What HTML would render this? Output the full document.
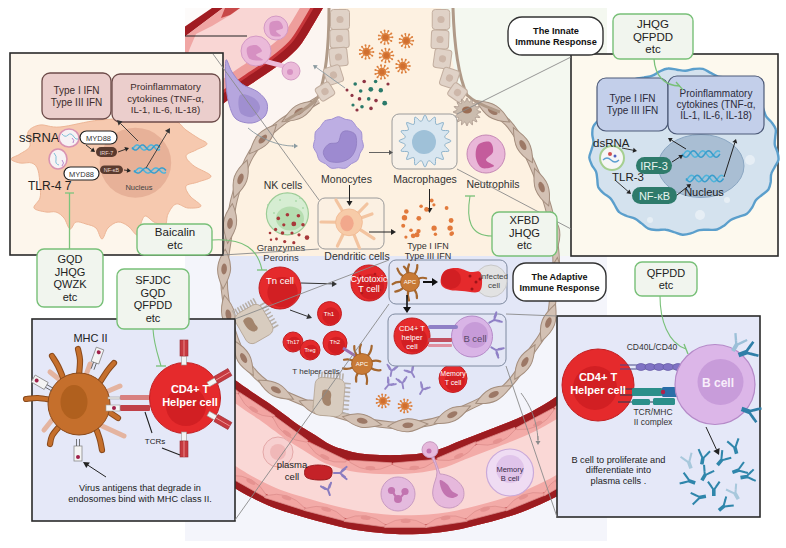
<!DOCTYPE html>
<html><head><meta charset="utf-8"><style>
html,body{margin:0;padding:0;background:#fff;}
svg{display:block;font-family:"Liberation Sans",sans-serif;}
</style></head><body>
<svg width="786" height="548" viewBox="0 0 786 548">
<rect x="0" y="0" width="786" height="548" rx="0" fill="#ffffff" stroke="none" stroke-width="1" />
<rect x="185" y="8" width="422" height="533" rx="0" fill="#fcf5f1" stroke="none" stroke-width="1" />
<path d="M440,8 L607,8 L607,256 L470,256 Z" fill="#f4f8f0" stroke="none" stroke-width="1" />
<rect x="185" y="256" width="422" height="285" rx="0" fill="#f4f5fb" stroke="none" stroke-width="1" />
<clipPath id="tlv"><path d="M324.0,6.0 C321.7,10.0 314.5,22.8 310.0,30.0 C305.5,37.2 302.7,42.8 297.0,49.0 C291.3,55.2 283.7,61.2 276.0,67.0 C268.3,72.8 259.0,78.5 251.0,84.0 C243.0,89.5 234.8,95.0 228.0,100.0 C221.2,105.0 214.7,110.0 210.0,114.0 C205.3,118.0 201.7,122.3 200.0,124.0 L185,124 L185,6 Z"/></clipPath>
<path d="M324.0,6.0 C321.7,10.0 314.5,22.8 310.0,30.0 C305.5,37.2 302.7,42.8 297.0,49.0 C291.3,55.2 283.7,61.2 276.0,67.0 C268.3,72.8 259.0,78.5 251.0,84.0 C243.0,89.5 234.8,95.0 228.0,100.0 C221.2,105.0 214.7,110.0 210.0,114.0 C205.3,118.0 201.7,122.3 200.0,124.0 L185,124 L185,6 Z" fill="#f9d6d4" stroke="none" stroke-width="1" />
<g clip-path="url(#tlv)">
<path d="M324.0,6.0 C321.7,10.0 314.5,22.8 310.0,30.0 C305.5,37.2 302.7,42.8 297.0,49.0 C291.3,55.2 283.7,61.2 276.0,67.0 C268.3,72.8 259.0,78.5 251.0,84.0 C243.0,89.5 234.8,95.0 228.0,100.0 C221.2,105.0 214.7,110.0 210.0,114.0 C205.3,118.0 201.7,122.3 200.0,124.0" fill="none" stroke="#ee9e9c" stroke-width="40" />
<path d="M324.0,6.0 C321.7,10.0 314.5,22.8 310.0,30.0 C305.5,37.2 302.7,42.8 297.0,49.0 C291.3,55.2 283.7,61.2 276.0,67.0 C268.3,72.8 259.0,78.5 251.0,84.0 C243.0,89.5 234.8,95.0 228.0,100.0 C221.2,105.0 214.7,110.0 210.0,114.0 C205.3,118.0 201.7,122.3 200.0,124.0" fill="none" stroke="#c8383c" stroke-width="22" />
<path d="M324.0,6.0 C321.7,10.0 314.5,22.8 310.0,30.0 C305.5,37.2 302.7,42.8 297.0,49.0 C291.3,55.2 283.7,61.2 276.0,67.0 C268.3,72.8 259.0,78.5 251.0,84.0 C243.0,89.5 234.8,95.0 228.0,100.0 C221.2,105.0 214.7,110.0 210.0,114.0 C205.3,118.0 201.7,122.3 200.0,124.0" fill="none" stroke="#a01c22" stroke-width="16" />
</g>
<path d="M185,8 L212,8 L185,26.5Z" fill="#fdfbfa" stroke="none" stroke-width="1" />
<path d="M212,8 L223,8 L185,36.5 L185,26.5Z" fill="#a01c22" stroke="none" stroke-width="1" />
<path d="M223,8 L240,8 L232,14 L212,26 L196,34 L190,48 L185,62 L185,36.5Z" fill="#f0a6a4" stroke="none" stroke-width="1" />
<path d="M225,8 L240,8 L230,15 L221,18Z" fill="#c84848" stroke="none" stroke-width="1" />
<rect x="185" y="0" width="422" height="8" rx="0" fill="#ffffff" stroke="none" stroke-width="1" />
<circle cx="276" cy="28" r="12" fill="#ebbad9" stroke="#d49ac4" stroke-width="1" />
<path d="M270.0,23.0 C271.3,20.7 276.8,20.2 279.0,21.0 C281.2,21.8 283.5,26.3 283.0,28.0 C282.5,29.7 276.3,29.7 276.0,31.0 C275.7,32.3 281.8,35.3 281.0,36.0 C280.2,36.7 272.8,37.2 271.0,35.0 C269.2,32.8 268.7,25.3 270.0,23.0Z" fill="#d690c2" stroke="none" stroke-width="1" />
<path d="M262,60 C272,64 280,64 288,68" fill="none" stroke="#ebbad9" stroke-width="5" />
<circle cx="256" cy="51" r="15" fill="#ebbad9" stroke="#d49ac4" stroke-width="1" />
<path d="M247.0,48.0 C248.0,45.7 253.5,44.5 256.0,45.0 C258.5,45.5 262.0,49.3 262.0,51.0 C262.0,52.7 255.8,53.5 256.0,55.0 C256.2,56.5 264.0,59.3 263.0,60.0 C262.0,60.7 252.7,61.0 250.0,59.0 C247.3,57.0 246.0,50.3 247.0,48.0Z" fill="#d690c2" stroke="none" stroke-width="1" />
<circle cx="291" cy="71" r="9" fill="#ebbad9" stroke="#d49ac4" stroke-width="1" />
<circle cx="290" cy="72" r="3" fill="#d690c2" stroke="none" stroke-width="1" />
<path d="M226.0,60.0 C227.0,58.0 229.3,68.0 232.0,72.0 C234.7,76.0 237.7,80.7 242.0,84.0 C246.3,87.3 253.8,88.8 258.0,92.0 C262.2,95.2 265.8,99.0 267.0,103.0 C268.2,107.0 267.5,112.7 265.0,116.0 C262.5,119.3 256.8,122.5 252.0,123.0 C247.2,123.5 239.8,122.2 236.0,119.0 C232.2,115.8 230.7,109.8 229.0,104.0 C227.3,98.2 226.5,91.3 226.0,84.0 C225.5,76.7 225.0,62.0 226.0,60.0Z" fill="#b6a6de" stroke="#9a88cc" stroke-width="1" />
<path d="M240.0,95.0 C242.3,92.7 250.7,95.8 254.0,98.0 C257.3,100.2 260.3,104.8 260.0,108.0 C259.7,111.2 255.3,116.3 252.0,117.0 C248.7,117.7 242.0,115.7 240.0,112.0 C238.0,108.3 237.7,97.3 240.0,95.0Z" fill="#a08fd0" stroke="none" stroke-width="1" />
<clipPath id="chc"><path d="M339.0,8.0 C338.2,16.7 337.5,44.7 334.0,60.0 C330.5,75.3 323.7,91.5 318.0,100.0 C312.3,108.5 306.0,107.3 300.0,111.0 C294.0,114.7 288.3,117.2 282.0,122.0 C275.7,126.8 267.7,133.7 262.0,140.0 C256.3,146.3 252.7,150.0 248.0,160.0 C243.3,170.0 237.3,186.7 234.0,200.0 C230.7,213.3 229.7,228.0 228.0,240.0 C226.3,252.0 224.3,261.7 224.0,272.0 C223.7,282.3 224.2,290.8 226.0,302.0 C227.8,313.2 231.0,328.0 235.0,339.0 C239.0,350.0 244.0,360.0 250.0,368.0 C256.0,376.0 261.3,381.0 271.0,387.0 C280.7,393.0 294.8,398.8 308.0,404.0 C321.2,409.2 336.3,414.5 350.0,418.0 C363.7,421.5 378.3,424.0 390.0,425.0 C401.7,426.0 411.3,425.0 420.0,424.0 C428.7,423.0 434.3,421.7 442.0,419.0 C449.7,416.3 457.8,411.8 466.0,408.0 C474.2,404.2 484.5,399.3 491.0,396.0 C497.5,392.7 500.5,391.8 505.0,388.0 C509.5,384.2 513.7,379.0 518.0,373.0 C522.3,367.0 527.0,358.2 531.0,352.0 C535.0,345.8 538.8,341.7 542.0,336.0 C545.2,330.3 548.2,324.3 550.0,318.0 C551.8,311.7 552.0,306.0 553.0,298.0 C554.0,290.0 555.6,278.0 556.0,270.0 C556.4,262.0 556.5,259.3 555.5,250.0 C554.5,240.7 552.6,225.2 550.0,214.0 C547.4,202.8 544.2,193.8 540.0,183.0 C535.8,172.2 530.3,159.0 525.0,149.0 C519.7,139.0 514.5,130.0 508.0,123.0 C501.5,116.0 493.7,112.2 486.0,107.0 C478.3,101.8 467.7,99.8 462.0,92.0 C456.3,84.2 455.0,70.3 452.0,60.0 C449.0,49.7 445.8,38.7 444.0,30.0 C442.2,21.3 441.5,11.7 441.0,8.0 L339,8 Z"/></clipPath>
<path d="M339.0,8.0 C338.2,16.7 337.5,44.7 334.0,60.0 C330.5,75.3 323.7,91.5 318.0,100.0 C312.3,108.5 306.0,107.3 300.0,111.0 C294.0,114.7 288.3,117.2 282.0,122.0 C275.7,126.8 267.7,133.7 262.0,140.0 C256.3,146.3 252.7,150.0 248.0,160.0 C243.3,170.0 237.3,186.7 234.0,200.0 C230.7,213.3 229.7,228.0 228.0,240.0 C226.3,252.0 224.3,261.7 224.0,272.0 C223.7,282.3 224.2,290.8 226.0,302.0 C227.8,313.2 231.0,328.0 235.0,339.0 C239.0,350.0 244.0,360.0 250.0,368.0 C256.0,376.0 261.3,381.0 271.0,387.0 C280.7,393.0 294.8,398.8 308.0,404.0 C321.2,409.2 336.3,414.5 350.0,418.0 C363.7,421.5 378.3,424.0 390.0,425.0 C401.7,426.0 411.3,425.0 420.0,424.0 C428.7,423.0 434.3,421.7 442.0,419.0 C449.7,416.3 457.8,411.8 466.0,408.0 C474.2,404.2 484.5,399.3 491.0,396.0 C497.5,392.7 500.5,391.8 505.0,388.0 C509.5,384.2 513.7,379.0 518.0,373.0 C522.3,367.0 527.0,358.2 531.0,352.0 C535.0,345.8 538.8,341.7 542.0,336.0 C545.2,330.3 548.2,324.3 550.0,318.0 C551.8,311.7 552.0,306.0 553.0,298.0 C554.0,290.0 555.6,278.0 556.0,270.0 C556.4,262.0 556.5,259.3 555.5,250.0 C554.5,240.7 552.6,225.2 550.0,214.0 C547.4,202.8 544.2,193.8 540.0,183.0 C535.8,172.2 530.3,159.0 525.0,149.0 C519.7,139.0 514.5,130.0 508.0,123.0 C501.5,116.0 493.7,112.2 486.0,107.0 C478.3,101.8 467.7,99.8 462.0,92.0 C456.3,84.2 455.0,70.3 452.0,60.0 C449.0,49.7 445.8,38.7 444.0,30.0 C442.2,21.3 441.5,11.7 441.0,8.0 L339,8 Z" fill="#fdf1e1" stroke="none" stroke-width="1" />
<g clip-path="url(#chc)"><rect x="180" y="256" width="400" height="200" fill="#e3e7f7"/></g>
<path d="M318.0,100.0 C315.0,101.8 306.0,107.3 300.0,111.0 C294.0,114.7 288.3,117.2 282.0,122.0 C275.7,126.8 267.7,133.7 262.0,140.0 C256.3,146.3 252.7,150.0 248.0,160.0 C243.3,170.0 237.3,186.7 234.0,200.0 C230.7,213.3 229.7,228.0 228.0,240.0 C226.3,252.0 224.3,261.7 224.0,272.0 C223.7,282.3 224.2,290.8 226.0,302.0 C227.8,313.2 231.0,328.0 235.0,339.0 C239.0,350.0 244.0,360.0 250.0,368.0 C256.0,376.0 261.3,381.0 271.0,387.0 C280.7,393.0 294.8,398.8 308.0,404.0 C321.2,409.2 336.3,414.5 350.0,418.0 C363.7,421.5 378.3,424.0 390.0,425.0 C401.7,426.0 411.3,425.0 420.0,424.0 C428.7,423.0 434.3,421.7 442.0,419.0 C449.7,416.3 457.8,411.8 466.0,408.0 C474.2,404.2 484.5,399.3 491.0,396.0 C497.5,392.7 500.5,391.8 505.0,388.0 C509.5,384.2 513.7,379.0 518.0,373.0 C522.3,367.0 527.0,358.2 531.0,352.0 C535.0,345.8 538.8,341.7 542.0,336.0 C545.2,330.3 548.2,324.3 550.0,318.0 C551.8,311.7 552.0,306.0 553.0,298.0 C554.0,290.0 555.6,278.0 556.0,270.0 C556.4,262.0 556.5,259.3 555.5,250.0 C554.5,240.7 552.6,225.2 550.0,214.0 C547.4,202.8 544.2,193.8 540.0,183.0 C535.8,172.2 530.3,159.0 525.0,149.0 C519.7,139.0 514.5,130.0 508.0,123.0 C501.5,116.0 489.7,109.7 486.0,107.0" fill="none" stroke="#a48e7e" stroke-width="7.5" />
<path d="M318.0,100.0 C315.0,101.8 306.0,107.3 300.0,111.0 C294.0,114.7 288.3,117.2 282.0,122.0 C275.7,126.8 267.7,133.7 262.0,140.0 C256.3,146.3 252.7,150.0 248.0,160.0 C243.3,170.0 237.3,186.7 234.0,200.0 C230.7,213.3 229.7,228.0 228.0,240.0 C226.3,252.0 224.3,261.7 224.0,272.0 C223.7,282.3 224.2,290.8 226.0,302.0 C227.8,313.2 231.0,328.0 235.0,339.0 C239.0,350.0 244.0,360.0 250.0,368.0 C256.0,376.0 261.3,381.0 271.0,387.0 C280.7,393.0 294.8,398.8 308.0,404.0 C321.2,409.2 336.3,414.5 350.0,418.0 C363.7,421.5 378.3,424.0 390.0,425.0 C401.7,426.0 411.3,425.0 420.0,424.0 C428.7,423.0 434.3,421.7 442.0,419.0 C449.7,416.3 457.8,411.8 466.0,408.0 C474.2,404.2 484.5,399.3 491.0,396.0 C497.5,392.7 500.5,391.8 505.0,388.0 C509.5,384.2 513.7,379.0 518.0,373.0 C522.3,367.0 527.0,358.2 531.0,352.0 C535.0,345.8 538.8,341.7 542.0,336.0 C545.2,330.3 548.2,324.3 550.0,318.0 C551.8,311.7 552.0,306.0 553.0,298.0 C554.0,290.0 555.6,278.0 556.0,270.0 C556.4,262.0 556.5,259.3 555.5,250.0 C554.5,240.7 552.6,225.2 550.0,214.0 C547.4,202.8 544.2,193.8 540.0,183.0 C535.8,172.2 530.3,159.0 525.0,149.0 C519.7,139.0 514.5,130.0 508.0,123.0 C501.5,116.0 489.7,109.7 486.0,107.0" fill="none" stroke="#d3c1b4" stroke-width="5.5" />
<g transform="translate(299.2,111.5) rotate(149.2)"><path d="M-20,0 C-10,-6 -4,-6.5 0,-6.5 C6,-6.5 12,-4 20,0 C12,4 6,6.5 0,6.5 C-4,6.5 -10,6 -20,0Z" fill="#d3c1b4" stroke="#a48e7e" stroke-width="1"/><ellipse cx="0" cy="0" rx="5.5" ry="2.8" fill="#9c7866"/></g>
<g transform="translate(262.8,139.1) rotate(132.7)"><path d="M-20,0 C-10,-6 -4,-6.5 0,-6.5 C6,-6.5 12,-4 20,0 C12,4 6,6.5 0,6.5 C-4,6.5 -10,6 -20,0Z" fill="#d3c1b4" stroke="#a48e7e" stroke-width="1"/><ellipse cx="0" cy="0" rx="5.5" ry="2.8" fill="#9c7866"/></g>
<g transform="translate(240.5,178.9) rotate(109.3)"><path d="M-20,0 C-10,-6 -4,-6.5 0,-6.5 C6,-6.5 12,-4 20,0 C12,4 6,6.5 0,6.5 C-4,6.5 -10,6 -20,0Z" fill="#d3c1b4" stroke="#a48e7e" stroke-width="1"/><ellipse cx="0" cy="0" rx="5.5" ry="2.8" fill="#9c7866"/></g>
<g transform="translate(230.0,223.5) rotate(96.9)"><path d="M-20,0 C-10,-6 -4,-6.5 0,-6.5 C6,-6.5 12,-4 20,0 C12,4 6,6.5 0,6.5 C-4,6.5 -10,6 -20,0Z" fill="#d3c1b4" stroke="#a48e7e" stroke-width="1"/><ellipse cx="0" cy="0" rx="5.5" ry="2.8" fill="#9c7866"/></g>
<g transform="translate(224.1,269.1) rotate(93.3)"><path d="M-20,0 C-10,-6 -4,-6.5 0,-6.5 C6,-6.5 12,-4 20,0 C12,4 6,6.5 0,6.5 C-4,6.5 -10,6 -20,0Z" fill="#d3c1b4" stroke="#a48e7e" stroke-width="1"/><ellipse cx="0" cy="0" rx="5.5" ry="2.8" fill="#9c7866"/></g>
<g transform="translate(228.4,314.8) rotate(78.1)"><path d="M-20,0 C-10,-6 -4,-6.5 0,-6.5 C6,-6.5 12,-4 20,0 C12,4 6,6.5 0,6.5 C-4,6.5 -10,6 -20,0Z" fill="#d3c1b4" stroke="#a48e7e" stroke-width="1"/><ellipse cx="0" cy="0" rx="5.5" ry="2.8" fill="#9c7866"/></g>
<g transform="translate(243.6,358.0) rotate(60.9)"><path d="M-20,0 C-10,-6 -4,-6.5 0,-6.5 C6,-6.5 12,-4 20,0 C12,4 6,6.5 0,6.5 C-4,6.5 -10,6 -20,0Z" fill="#d3c1b4" stroke="#a48e7e" stroke-width="1"/><ellipse cx="0" cy="0" rx="5.5" ry="2.8" fill="#9c7866"/></g>
<g transform="translate(275.9,389.8) rotate(28.6)"><path d="M-20,0 C-10,-6 -4,-6.5 0,-6.5 C6,-6.5 12,-4 20,0 C12,4 6,6.5 0,6.5 C-4,6.5 -10,6 -20,0Z" fill="#d3c1b4" stroke="#a48e7e" stroke-width="1"/><ellipse cx="0" cy="0" rx="5.5" ry="2.8" fill="#9c7866"/></g>
<g transform="translate(318.1,407.9) rotate(20.2)"><path d="M-20,0 C-10,-6 -4,-6.5 0,-6.5 C6,-6.5 12,-4 20,0 C12,4 6,6.5 0,6.5 C-4,6.5 -10,6 -20,0Z" fill="#d3c1b4" stroke="#a48e7e" stroke-width="1"/><ellipse cx="0" cy="0" rx="5.5" ry="2.8" fill="#9c7866"/></g>
<g transform="translate(362.2,420.8) rotate(11.7)"><path d="M-20,0 C-10,-6 -4,-6.5 0,-6.5 C6,-6.5 12,-4 20,0 C12,4 6,6.5 0,6.5 C-4,6.5 -10,6 -20,0Z" fill="#d3c1b4" stroke="#a48e7e" stroke-width="1"/><ellipse cx="0" cy="0" rx="5.5" ry="2.8" fill="#9c7866"/></g>
<g transform="translate(407.9,425.2) rotate(-3.5)"><path d="M-20,0 C-10,-6 -4,-6.5 0,-6.5 C6,-6.5 12,-4 20,0 C12,4 6,6.5 0,6.5 C-4,6.5 -10,6 -20,0Z" fill="#d3c1b4" stroke="#a48e7e" stroke-width="1"/><ellipse cx="0" cy="0" rx="5.5" ry="2.8" fill="#9c7866"/></g>
<g transform="translate(452.3,414.7) rotate(-25.4)"><path d="M-20,0 C-10,-6 -4,-6.5 0,-6.5 C6,-6.5 12,-4 20,0 C12,4 6,6.5 0,6.5 C-4,6.5 -10,6 -20,0Z" fill="#d3c1b4" stroke="#a48e7e" stroke-width="1"/><ellipse cx="0" cy="0" rx="5.5" ry="2.8" fill="#9c7866"/></g>
<g transform="translate(493.7,394.6) rotate(-26.0)"><path d="M-20,0 C-10,-6 -4,-6.5 0,-6.5 C6,-6.5 12,-4 20,0 C12,4 6,6.5 0,6.5 C-4,6.5 -10,6 -20,0Z" fill="#d3c1b4" stroke="#a48e7e" stroke-width="1"/><ellipse cx="0" cy="0" rx="5.5" ry="2.8" fill="#9c7866"/></g>
<g transform="translate(524.9,362.0) rotate(-59.4)"><path d="M-20,0 C-10,-6 -4,-6.5 0,-6.5 C6,-6.5 12,-4 20,0 C12,4 6,6.5 0,6.5 C-4,6.5 -10,6 -20,0Z" fill="#d3c1b4" stroke="#a48e7e" stroke-width="1"/><ellipse cx="0" cy="0" rx="5.5" ry="2.8" fill="#9c7866"/></g>
<g transform="translate(548.4,322.6) rotate(-69.1)"><path d="M-20,0 C-10,-6 -4,-6.5 0,-6.5 C6,-6.5 12,-4 20,0 C12,4 6,6.5 0,6.5 C-4,6.5 -10,6 -20,0Z" fill="#d3c1b4" stroke="#a48e7e" stroke-width="1"/><ellipse cx="0" cy="0" rx="5.5" ry="2.8" fill="#9c7866"/></g>
<g transform="translate(555.4,277.3) rotate(-84.4)"><path d="M-20,0 C-10,-6 -4,-6.5 0,-6.5 C6,-6.5 12,-4 20,0 C12,4 6,6.5 0,6.5 C-4,6.5 -10,6 -20,0Z" fill="#d3c1b4" stroke="#a48e7e" stroke-width="1"/><ellipse cx="0" cy="0" rx="5.5" ry="2.8" fill="#9c7866"/></g>
<g transform="translate(553.2,231.5) rotate(-98.3)"><path d="M-20,0 C-10,-6 -4,-6.5 0,-6.5 C6,-6.5 12,-4 20,0 C12,4 6,6.5 0,6.5 C-4,6.5 -10,6 -20,0Z" fill="#d3c1b4" stroke="#a48e7e" stroke-width="1"/><ellipse cx="0" cy="0" rx="5.5" ry="2.8" fill="#9c7866"/></g>
<g transform="translate(541.6,187.1) rotate(-110.7)"><path d="M-20,0 C-10,-6 -4,-6.5 0,-6.5 C6,-6.5 12,-4 20,0 C12,4 6,6.5 0,6.5 C-4,6.5 -10,6 -20,0Z" fill="#d3c1b4" stroke="#a48e7e" stroke-width="1"/><ellipse cx="0" cy="0" rx="5.5" ry="2.8" fill="#9c7866"/></g>
<g transform="translate(522.9,145.1) rotate(-118.6)"><path d="M-20,0 C-10,-6 -4,-6.5 0,-6.5 C6,-6.5 12,-4 20,0 C12,4 6,6.5 0,6.5 C-4,6.5 -10,6 -20,0Z" fill="#d3c1b4" stroke="#a48e7e" stroke-width="1"/><ellipse cx="0" cy="0" rx="5.5" ry="2.8" fill="#9c7866"/></g>
<g transform="translate(492.7,111.3) rotate(-147.6)"><path d="M-20,0 C-10,-6 -4,-6.5 0,-6.5 C6,-6.5 12,-4 20,0 C12,4 6,6.5 0,6.5 C-4,6.5 -10,6 -20,0Z" fill="#d3c1b4" stroke="#a48e7e" stroke-width="1"/><ellipse cx="0" cy="0" rx="5.5" ry="2.8" fill="#9c7866"/></g>
<path d="M329,8 C329,40 327,75 318,97 C310,108 296,114 285,121" fill="none" stroke="#b09a88" stroke-width="3" />
<path d="M453,8 C454,40 458,75 467,95 C476,104 490,108 500,112" fill="none" stroke="#b09a88" stroke-width="3" />
<g transform="translate(340,19.5) rotate(0)"><rect x="-9.5" y="-10.0" width="19" height="20" rx="3" fill="#e0d2c7" stroke="#c2ae9f" stroke-width="1"/><circle cx="0" cy="0" r="3.6" fill="#cdb7a9"/></g>
<g transform="translate(339.5,38.6) rotate(-2)"><rect x="-9.5" y="-9.25" width="19" height="18.5" rx="3" fill="#e0d2c7" stroke="#c2ae9f" stroke-width="1"/><circle cx="0" cy="0" r="3.6" fill="#cdb7a9"/></g>
<g transform="translate(338.5,57) rotate(-6)"><rect x="-9.0" y="-9.25" width="18" height="18.5" rx="3" fill="#e0d2c7" stroke="#c2ae9f" stroke-width="1"/><circle cx="0" cy="0" r="3.6" fill="#cdb7a9"/></g>
<g transform="translate(333.5,75) rotate(-18)"><rect x="-8.5" y="-8.75" width="17" height="17.5" rx="3" fill="#e0d2c7" stroke="#c2ae9f" stroke-width="1"/><circle cx="0" cy="0" r="3.6" fill="#cdb7a9"/></g>
<g transform="translate(325,91.5) rotate(-32)"><rect x="-8.0" y="-7.5" width="16" height="15" rx="3" fill="#e0d2c7" stroke="#c2ae9f" stroke-width="1"/><circle cx="0" cy="0" r="3.6" fill="#cdb7a9"/></g>
<g transform="translate(441,19.5) rotate(0)"><rect x="-8.75" y="-10.0" width="17.5" height="20" rx="3" fill="#e0d2c7" stroke="#c2ae9f" stroke-width="1"/><circle cx="0" cy="0" r="3.6" fill="#cdb7a9"/></g>
<g transform="translate(440,39.5) rotate(2)"><rect x="-8.75" y="-9.25" width="17.5" height="18.5" rx="3" fill="#e0d2c7" stroke="#c2ae9f" stroke-width="1"/><circle cx="0" cy="0" r="3.6" fill="#cdb7a9"/></g>
<g transform="translate(442.5,58.8) rotate(8)"><rect x="-8.5" y="-9.5" width="17" height="19" rx="3" fill="#e0d2c7" stroke="#c2ae9f" stroke-width="1"/><circle cx="0" cy="0" r="3.6" fill="#cdb7a9"/></g>
<g transform="translate(449.5,78) rotate(18)"><rect x="-8.25" y="-9.25" width="16.5" height="18.5" rx="3" fill="#e0d2c7" stroke="#c2ae9f" stroke-width="1"/><circle cx="0" cy="0" r="3.6" fill="#cdb7a9"/></g>
<g transform="translate(457.5,92.5) rotate(35)"><rect x="-8.0" y="-7.5" width="16" height="15" rx="3" fill="#e0d2c7" stroke="#c2ae9f" stroke-width="1"/><circle cx="0" cy="0" r="3.6" fill="#cdb7a9"/></g>
<path d="M481.0,112.0 C481.0,112.7 477.0,113.1 476.8,114.0 C476.6,114.8 480.2,116.8 479.9,117.4 C479.7,118.0 475.8,116.8 475.3,117.6 C474.8,118.3 477.4,121.4 476.9,121.9 C476.4,122.4 473.3,119.8 472.6,120.3 C471.8,120.8 473.0,124.7 472.4,124.9 C471.8,125.2 469.8,121.6 469.0,121.8 C468.1,122.0 467.7,126.0 467.0,126.0 C466.3,126.0 465.9,122.0 465.0,121.8 C464.2,121.6 462.2,125.2 461.6,124.9 C461.0,124.7 462.2,120.8 461.4,120.3 C460.7,119.8 457.6,122.4 457.1,121.9 C456.6,121.4 459.2,118.3 458.7,117.6 C458.2,116.8 454.3,118.0 454.1,117.4 C453.8,116.8 457.4,114.8 457.2,114.0 C457.0,113.1 453.0,112.7 453.0,112.0 C453.0,111.3 457.0,110.9 457.2,110.0 C457.4,109.2 453.8,107.2 454.1,106.6 C454.3,106.0 458.2,107.2 458.7,106.4 C459.2,105.7 456.6,102.6 457.1,102.1 C457.6,101.6 460.7,104.2 461.4,103.7 C462.2,103.2 461.0,99.3 461.6,99.1 C462.2,98.8 464.2,102.4 465.0,102.2 C465.9,102.0 466.3,98.0 467.0,98.0 C467.7,98.0 468.1,102.0 469.0,102.2 C469.8,102.4 471.8,98.8 472.4,99.1 C473.0,99.3 471.8,103.2 472.6,103.7 C473.3,104.2 476.4,101.6 476.9,102.1 C477.4,102.6 474.8,105.7 475.3,106.4 C475.8,107.2 479.7,106.0 479.9,106.6 C480.2,107.2 476.6,109.2 476.8,110.0 C477.0,110.9 481.0,111.3 481.0,112.0Z" fill="#cbbcae" stroke="#a8968a" stroke-width="0.8" />
<ellipse cx="467" cy="110" rx="5" ry="3.5" fill="#9b6e55" stroke="none" stroke-width="1" />
<g transform="translate(254,324) rotate(-30)"><line x1="-12.0" y1="-17.0" x2="-12.0" y2="-22.0" stroke="#b8b0a8" stroke-width="1.6" stroke-linecap="round"/><line x1="-9.0" y1="-17.0" x2="-9.0" y2="-22.0" stroke="#b8b0a8" stroke-width="1.6" stroke-linecap="round"/><line x1="-6.0" y1="-17.0" x2="-6.0" y2="-22.0" stroke="#b8b0a8" stroke-width="1.6" stroke-linecap="round"/><line x1="-3.0" y1="-17.0" x2="-3.0" y2="-22.0" stroke="#b8b0a8" stroke-width="1.6" stroke-linecap="round"/><line x1="0.0" y1="-17.0" x2="0.0" y2="-22.0" stroke="#b8b0a8" stroke-width="1.6" stroke-linecap="round"/><line x1="3.0" y1="-17.0" x2="3.0" y2="-22.0" stroke="#b8b0a8" stroke-width="1.6" stroke-linecap="round"/><line x1="6.0" y1="-17.0" x2="6.0" y2="-22.0" stroke="#b8b0a8" stroke-width="1.6" stroke-linecap="round"/><line x1="9.0" y1="-17.0" x2="9.0" y2="-22.0" stroke="#b8b0a8" stroke-width="1.6" stroke-linecap="round"/><line x1="12.0" y1="-17.0" x2="12.0" y2="-22.0" stroke="#b8b0a8" stroke-width="1.6" stroke-linecap="round"/><line x1="15.0" y1="-13.0" x2="20.0" y2="-13.0" stroke="#b8b0a8" stroke-width="1.6" stroke-linecap="round"/><line x1="15.0" y1="-9.3" x2="20.0" y2="-9.3" stroke="#b8b0a8" stroke-width="1.6" stroke-linecap="round"/><line x1="15.0" y1="-5.6" x2="20.0" y2="-5.6" stroke="#b8b0a8" stroke-width="1.6" stroke-linecap="round"/><line x1="15.0" y1="-1.9" x2="20.0" y2="-1.9" stroke="#b8b0a8" stroke-width="1.6" stroke-linecap="round"/><line x1="15.0" y1="1.9" x2="20.0" y2="1.9" stroke="#b8b0a8" stroke-width="1.6" stroke-linecap="round"/><line x1="15.0" y1="5.6" x2="20.0" y2="5.6" stroke="#b8b0a8" stroke-width="1.6" stroke-linecap="round"/><line x1="15.0" y1="9.3" x2="20.0" y2="9.3" stroke="#b8b0a8" stroke-width="1.6" stroke-linecap="round"/><line x1="15.0" y1="13.0" x2="20.0" y2="13.0" stroke="#b8b0a8" stroke-width="1.6" stroke-linecap="round"/><rect x="-15.0" y="-17.0" width="30" height="34" rx="7" fill="#d8ccbf" stroke="#b4a494" stroke-width="0.8"/><path d="M-8,-8 C-3,-11 2,-8 1,-2 C0,2 4,5 -1,7 C-7,7 -9,0 -8,-8Z" fill="#a3846c"/></g>
<g transform="translate(329,397) rotate(5)"><line x1="-12.0" y1="-19.0" x2="-12.0" y2="-24.0" stroke="#b8b0a8" stroke-width="1.6" stroke-linecap="round"/><line x1="-9.0" y1="-19.0" x2="-9.0" y2="-24.0" stroke="#b8b0a8" stroke-width="1.6" stroke-linecap="round"/><line x1="-6.0" y1="-19.0" x2="-6.0" y2="-24.0" stroke="#b8b0a8" stroke-width="1.6" stroke-linecap="round"/><line x1="-3.0" y1="-19.0" x2="-3.0" y2="-24.0" stroke="#b8b0a8" stroke-width="1.6" stroke-linecap="round"/><line x1="0.0" y1="-19.0" x2="0.0" y2="-24.0" stroke="#b8b0a8" stroke-width="1.6" stroke-linecap="round"/><line x1="3.0" y1="-19.0" x2="3.0" y2="-24.0" stroke="#b8b0a8" stroke-width="1.6" stroke-linecap="round"/><line x1="6.0" y1="-19.0" x2="6.0" y2="-24.0" stroke="#b8b0a8" stroke-width="1.6" stroke-linecap="round"/><line x1="9.0" y1="-19.0" x2="9.0" y2="-24.0" stroke="#b8b0a8" stroke-width="1.6" stroke-linecap="round"/><line x1="12.0" y1="-19.0" x2="12.0" y2="-24.0" stroke="#b8b0a8" stroke-width="1.6" stroke-linecap="round"/><line x1="15.0" y1="-15.0" x2="20.0" y2="-15.0" stroke="#b8b0a8" stroke-width="1.6" stroke-linecap="round"/><line x1="15.0" y1="-10.7" x2="20.0" y2="-10.7" stroke="#b8b0a8" stroke-width="1.6" stroke-linecap="round"/><line x1="15.0" y1="-6.4" x2="20.0" y2="-6.4" stroke="#b8b0a8" stroke-width="1.6" stroke-linecap="round"/><line x1="15.0" y1="-2.1" x2="20.0" y2="-2.1" stroke="#b8b0a8" stroke-width="1.6" stroke-linecap="round"/><line x1="15.0" y1="2.1" x2="20.0" y2="2.1" stroke="#b8b0a8" stroke-width="1.6" stroke-linecap="round"/><line x1="15.0" y1="6.4" x2="20.0" y2="6.4" stroke="#b8b0a8" stroke-width="1.6" stroke-linecap="round"/><line x1="15.0" y1="10.7" x2="20.0" y2="10.7" stroke="#b8b0a8" stroke-width="1.6" stroke-linecap="round"/><line x1="15.0" y1="15.0" x2="20.0" y2="15.0" stroke="#b8b0a8" stroke-width="1.6" stroke-linecap="round"/><rect x="-15.0" y="-19.0" width="30" height="38" rx="7" fill="#d8ccbf" stroke="#b4a494" stroke-width="0.8"/><path d="M-7,-6 C-2,-9 3,-6 2,0 C1,4 5,7 0,9 C-6,9 -8,2 -7,-6Z" fill="#a3846c"/></g>
<clipPath id="vclip"><path d="M222.0,370.0 C224.2,371.7 229.5,376.0 235.0,380.0 C240.5,384.0 249.2,390.0 255.0,394.0 C260.8,398.0 265.0,400.5 270.0,404.0 C275.0,407.5 280.0,411.3 285.0,415.0 C290.0,418.7 295.0,422.7 300.0,426.0 C305.0,429.3 310.0,431.9 315.0,435.0 C320.0,438.1 325.0,442.0 330.0,444.5 C335.0,447.0 340.0,448.5 345.0,450.0 C350.0,451.5 354.2,452.7 360.0,453.5 C365.8,454.3 373.3,454.8 380.0,455.0 C386.7,455.2 393.3,455.2 400.0,455.0 C406.7,454.8 413.3,454.5 420.0,453.5 C426.7,452.5 434.0,450.8 440.0,449.0 C446.0,447.2 450.5,444.7 456.0,442.5 C461.5,440.3 467.2,438.2 473.0,436.0 C478.8,433.8 485.0,431.3 491.0,429.0 C497.0,426.7 503.0,424.5 509.0,422.0 C515.0,419.5 521.0,417.0 527.0,414.0 C533.0,411.0 539.5,407.3 545.0,404.0 C550.5,400.7 555.5,397.2 560.0,394.0 C564.5,390.8 570.0,386.5 572.0,385.0 L572.0,488.0 C569.5,489.4 562.0,493.9 556.7,496.6 C551.4,499.4 545.8,501.9 540.0,504.5 C534.2,507.1 528.4,509.6 522.1,511.9 C515.8,514.2 508.8,516.5 502.0,518.5 C495.2,520.5 488.2,522.4 481.4,524.1 C474.6,525.9 467.8,527.6 461.0,529.0 C454.2,530.4 447.5,531.5 440.7,532.3 C433.9,533.1 426.8,533.7 420.0,534.0 C413.2,534.3 406.4,534.4 400.0,534.3 C393.6,534.1 388.1,533.7 381.4,533.1 C374.7,532.5 367.0,531.8 359.8,530.6 C352.6,529.5 345.3,527.8 338.1,526.2 C330.9,524.6 323.7,522.8 316.5,520.8 C309.3,518.8 302.1,516.7 294.9,514.5 C287.7,512.3 280.5,510.3 273.3,507.5 C266.1,504.7 257.9,500.7 251.6,497.5 C245.3,494.3 240.3,491.3 235.4,488.4 C230.5,485.5 224.2,481.4 222.0,480.0 Z"/></clipPath>
<path d="M222.0,370.0 C224.2,371.7 229.5,376.0 235.0,380.0 C240.5,384.0 249.2,390.0 255.0,394.0 C260.8,398.0 265.0,400.5 270.0,404.0 C275.0,407.5 280.0,411.3 285.0,415.0 C290.0,418.7 295.0,422.7 300.0,426.0 C305.0,429.3 310.0,431.9 315.0,435.0 C320.0,438.1 325.0,442.0 330.0,444.5 C335.0,447.0 340.0,448.5 345.0,450.0 C350.0,451.5 354.2,452.7 360.0,453.5 C365.8,454.3 373.3,454.8 380.0,455.0 C386.7,455.2 393.3,455.2 400.0,455.0 C406.7,454.8 413.3,454.5 420.0,453.5 C426.7,452.5 434.0,450.8 440.0,449.0 C446.0,447.2 450.5,444.7 456.0,442.5 C461.5,440.3 467.2,438.2 473.0,436.0 C478.8,433.8 485.0,431.3 491.0,429.0 C497.0,426.7 503.0,424.5 509.0,422.0 C515.0,419.5 521.0,417.0 527.0,414.0 C533.0,411.0 539.5,407.3 545.0,404.0 C550.5,400.7 555.5,397.2 560.0,394.0 C564.5,390.8 570.0,386.5 572.0,385.0 L572.0,488.0 C569.5,489.4 562.0,493.9 556.7,496.6 C551.4,499.4 545.8,501.9 540.0,504.5 C534.2,507.1 528.4,509.6 522.1,511.9 C515.8,514.2 508.8,516.5 502.0,518.5 C495.2,520.5 488.2,522.4 481.4,524.1 C474.6,525.9 467.8,527.6 461.0,529.0 C454.2,530.4 447.5,531.5 440.7,532.3 C433.9,533.1 426.8,533.7 420.0,534.0 C413.2,534.3 406.4,534.4 400.0,534.3 C393.6,534.1 388.1,533.7 381.4,533.1 C374.7,532.5 367.0,531.8 359.8,530.6 C352.6,529.5 345.3,527.8 338.1,526.2 C330.9,524.6 323.7,522.8 316.5,520.8 C309.3,518.8 302.1,516.7 294.9,514.5 C287.7,512.3 280.5,510.3 273.3,507.5 C266.1,504.7 257.9,500.7 251.6,497.5 C245.3,494.3 240.3,491.3 235.4,488.4 C230.5,485.5 224.2,481.4 222.0,480.0 Z" fill="#fad8d6" stroke="none" stroke-width="1" />
<g clip-path="url(#vclip)">
<path d="M222.0,370.0 C224.2,371.7 229.5,376.0 235.0,380.0 C240.5,384.0 249.2,390.0 255.0,394.0 C260.8,398.0 265.0,400.5 270.0,404.0 C275.0,407.5 280.0,411.3 285.0,415.0 C290.0,418.7 295.0,422.7 300.0,426.0 C305.0,429.3 310.0,431.9 315.0,435.0 C320.0,438.1 325.0,442.0 330.0,444.5 C335.0,447.0 340.0,448.5 345.0,450.0 C350.0,451.5 354.2,452.7 360.0,453.5 C365.8,454.3 373.3,454.8 380.0,455.0 C386.7,455.2 393.3,455.2 400.0,455.0 C406.7,454.8 413.3,454.5 420.0,453.5 C426.7,452.5 434.0,450.8 440.0,449.0 C446.0,447.2 450.5,444.7 456.0,442.5 C461.5,440.3 467.2,438.2 473.0,436.0 C478.8,433.8 485.0,431.3 491.0,429.0 C497.0,426.7 503.0,424.5 509.0,422.0 C515.0,419.5 521.0,417.0 527.0,414.0 C533.0,411.0 539.5,407.3 545.0,404.0 C550.5,400.7 555.5,397.2 560.0,394.0 C564.5,390.8 570.0,386.5 572.0,385.0" fill="none" stroke="#f3aba8" stroke-width="38" />
<path d="M222.0,480.0 C224.2,481.4 230.5,485.5 235.4,488.4 C240.3,491.3 245.3,494.3 251.6,497.5 C257.9,500.7 266.1,504.7 273.3,507.5 C280.5,510.3 287.7,512.3 294.9,514.5 C302.1,516.7 309.3,518.8 316.5,520.8 C323.7,522.8 330.9,524.6 338.1,526.2 C345.3,527.8 352.6,529.5 359.8,530.6 C367.0,531.8 374.7,532.5 381.4,533.1 C388.1,533.7 393.6,534.1 400.0,534.3 C406.4,534.4 413.2,534.3 420.0,534.0 C426.8,533.7 433.9,533.1 440.7,532.3 C447.5,531.5 454.2,530.4 461.0,529.0 C467.8,527.6 474.6,525.9 481.4,524.1 C488.2,522.4 495.2,520.5 502.0,518.5 C508.8,516.5 515.8,514.2 522.1,511.9 C528.4,509.6 534.2,507.1 540.0,504.5 C545.8,501.9 551.4,499.4 556.7,496.6 C562.0,493.9 569.5,489.4 572.0,488.0" fill="none" stroke="#f3aba8" stroke-width="38" />
<path d="M222.0,370.0 C224.2,371.7 229.5,376.0 235.0,380.0 C240.5,384.0 249.2,390.0 255.0,394.0 C260.8,398.0 265.0,400.5 270.0,404.0 C275.0,407.5 280.0,411.3 285.0,415.0 C290.0,418.7 295.0,422.7 300.0,426.0 C305.0,429.3 310.0,431.9 315.0,435.0 C320.0,438.1 325.0,442.0 330.0,444.5 C335.0,447.0 340.0,448.5 345.0,450.0 C350.0,451.5 354.2,452.7 360.0,453.5 C365.8,454.3 373.3,454.8 380.0,455.0 C386.7,455.2 393.3,455.2 400.0,455.0 C406.7,454.8 413.3,454.5 420.0,453.5 C426.7,452.5 434.0,450.8 440.0,449.0 C446.0,447.2 450.5,444.7 456.0,442.5 C461.5,440.3 467.2,438.2 473.0,436.0 C478.8,433.8 485.0,431.3 491.0,429.0 C497.0,426.7 503.0,424.5 509.0,422.0 C515.0,419.5 521.0,417.0 527.0,414.0 C533.0,411.0 539.5,407.3 545.0,404.0 C550.5,400.7 555.5,397.2 560.0,394.0 C564.5,390.8 570.0,386.5 572.0,385.0" fill="none" stroke="#b82a2e" stroke-width="19" />
<path d="M222.0,480.0 C224.2,481.4 230.5,485.5 235.4,488.4 C240.3,491.3 245.3,494.3 251.6,497.5 C257.9,500.7 266.1,504.7 273.3,507.5 C280.5,510.3 287.7,512.3 294.9,514.5 C302.1,516.7 309.3,518.8 316.5,520.8 C323.7,522.8 330.9,524.6 338.1,526.2 C345.3,527.8 352.6,529.5 359.8,530.6 C367.0,531.8 374.7,532.5 381.4,533.1 C388.1,533.7 393.6,534.1 400.0,534.3 C406.4,534.4 413.2,534.3 420.0,534.0 C426.8,533.7 433.9,533.1 440.7,532.3 C447.5,531.5 454.2,530.4 461.0,529.0 C467.8,527.6 474.6,525.9 481.4,524.1 C488.2,522.4 495.2,520.5 502.0,518.5 C508.8,516.5 515.8,514.2 522.1,511.9 C528.4,509.6 534.2,507.1 540.0,504.5 C545.8,501.9 551.4,499.4 556.7,496.6 C562.0,493.9 569.5,489.4 572.0,488.0" fill="none" stroke="#b82a2e" stroke-width="19" />
<path d="M222.0,370.0 C224.2,371.7 229.5,376.0 235.0,380.0 C240.5,384.0 249.2,390.0 255.0,394.0 C260.8,398.0 265.0,400.5 270.0,404.0 C275.0,407.5 280.0,411.3 285.0,415.0 C290.0,418.7 295.0,422.7 300.0,426.0 C305.0,429.3 310.0,431.9 315.0,435.0 C320.0,438.1 325.0,442.0 330.0,444.5 C335.0,447.0 340.0,448.5 345.0,450.0 C350.0,451.5 354.2,452.7 360.0,453.5 C365.8,454.3 373.3,454.8 380.0,455.0 C386.7,455.2 393.3,455.2 400.0,455.0 C406.7,454.8 413.3,454.5 420.0,453.5 C426.7,452.5 434.0,450.8 440.0,449.0 C446.0,447.2 450.5,444.7 456.0,442.5 C461.5,440.3 467.2,438.2 473.0,436.0 C478.8,433.8 485.0,431.3 491.0,429.0 C497.0,426.7 503.0,424.5 509.0,422.0 C515.0,419.5 521.0,417.0 527.0,414.0 C533.0,411.0 539.5,407.3 545.0,404.0 C550.5,400.7 555.5,397.2 560.0,394.0 C564.5,390.8 570.0,386.5 572.0,385.0" fill="none" stroke="#9c1c20" stroke-width="16" />
<path d="M222.0,480.0 C224.2,481.4 230.5,485.5 235.4,488.4 C240.3,491.3 245.3,494.3 251.6,497.5 C257.9,500.7 266.1,504.7 273.3,507.5 C280.5,510.3 287.7,512.3 294.9,514.5 C302.1,516.7 309.3,518.8 316.5,520.8 C323.7,522.8 330.9,524.6 338.1,526.2 C345.3,527.8 352.6,529.5 359.8,530.6 C367.0,531.8 374.7,532.5 381.4,533.1 C388.1,533.7 393.6,534.1 400.0,534.3 C406.4,534.4 413.2,534.3 420.0,534.0 C426.8,533.7 433.9,533.1 440.7,532.3 C447.5,531.5 454.2,530.4 461.0,529.0 C467.8,527.6 474.6,525.9 481.4,524.1 C488.2,522.4 495.2,520.5 502.0,518.5 C508.8,516.5 515.8,514.2 522.1,511.9 C528.4,509.6 534.2,507.1 540.0,504.5 C545.8,501.9 551.4,499.4 556.7,496.6 C562.0,493.9 569.5,489.4 572.0,488.0" fill="none" stroke="#9c1c20" stroke-width="16" />
<g transform="translate(218.7,383.9) rotate(38.1)"><path d="M-21,-4 Q0,9 21,-4 L21,-6 L-21,-6Z" fill="#f2a5a2" stroke="#dc8e8c" stroke-width="0.7"/><ellipse cx="0" cy="0.5" rx="5" ry="2" fill="#e59290"/></g>
<g transform="translate(253.9,408.9) rotate(33.2)"><path d="M-21,-4 Q0,9 21,-4 L21,-6 L-21,-6Z" fill="#f2a5a2" stroke="#dc8e8c" stroke-width="0.7"/><ellipse cx="0" cy="0.5" rx="5" ry="2" fill="#e59290"/></g>
<g transform="translate(287.4,433.0) rotate(36.2)"><path d="M-21,-4 Q0,9 21,-4 L21,-6 L-21,-6Z" fill="#f2a5a2" stroke="#dc8e8c" stroke-width="0.7"/><ellipse cx="0" cy="0.5" rx="5" ry="2" fill="#e59290"/></g>
<g transform="translate(325.0,456.5) rotate(25.7)"><path d="M-21,-4 Q0,9 21,-4 L21,-6 L-21,-6Z" fill="#f2a5a2" stroke="#dc8e8c" stroke-width="0.7"/><ellipse cx="0" cy="0.5" rx="5" ry="2" fill="#e59290"/></g>
<g transform="translate(370.4,467.5) rotate(3.6)"><path d="M-21,-4 Q0,9 21,-4 L21,-6 L-21,-6Z" fill="#f2a5a2" stroke="#dc8e8c" stroke-width="0.7"/><ellipse cx="0" cy="0.5" rx="5" ry="2" fill="#e59290"/></g>
<g transform="translate(414.3,467.2) rotate(-4.9)"><path d="M-21,-4 Q0,9 21,-4 L21,-6 L-21,-6Z" fill="#f2a5a2" stroke="#dc8e8c" stroke-width="0.7"/><ellipse cx="0" cy="0.5" rx="5" ry="2" fill="#e59290"/></g>
<g transform="translate(458.6,455.5) rotate(-23.1)"><path d="M-21,-4 Q0,9 21,-4 L21,-6 L-21,-6Z" fill="#f2a5a2" stroke="#dc8e8c" stroke-width="0.7"/><ellipse cx="0" cy="0.5" rx="5" ry="2" fill="#e59290"/></g>
<g transform="translate(497.4,440.5) rotate(-21.0)"><path d="M-21,-4 Q0,9 21,-4 L21,-6 L-21,-6Z" fill="#f2a5a2" stroke="#dc8e8c" stroke-width="0.7"/><ellipse cx="0" cy="0.5" rx="5" ry="2" fill="#e59290"/></g>
<g transform="translate(537.4,423.3) rotate(-28.0)"><path d="M-21,-4 Q0,9 21,-4 L21,-6 L-21,-6Z" fill="#f2a5a2" stroke="#dc8e8c" stroke-width="0.7"/><ellipse cx="0" cy="0.5" rx="5" ry="2" fill="#e59290"/></g>
<g transform="translate(574.5,399.5) rotate(-37.3)"><path d="M-21,-4 Q0,9 21,-4 L21,-6 L-21,-6Z" fill="#f2a5a2" stroke="#dc8e8c" stroke-width="0.7"/><ellipse cx="0" cy="0.5" rx="5" ry="2" fill="#e59290"/></g>
<g transform="translate(250.6,482.2) rotate(29.4)"><path d="M-21,4 Q0,-9 21,4 L21,6 L-21,6Z" fill="#f2a5a2" stroke="#dc8e8c" stroke-width="0.7"/><ellipse cx="0" cy="-0.5" rx="5" ry="2" fill="#e59290"/></g>
<g transform="translate(286.4,498.3) rotate(17.7)"><path d="M-21,4 Q0,-9 21,4 L21,6 L-21,6Z" fill="#f2a5a2" stroke="#dc8e8c" stroke-width="0.7"/><ellipse cx="0" cy="-0.5" rx="5" ry="2" fill="#e59290"/></g>
<g transform="translate(326.0,509.9) rotate(14.6)"><path d="M-21,4 Q0,-9 21,4 L21,6 L-21,6Z" fill="#f2a5a2" stroke="#dc8e8c" stroke-width="0.7"/><ellipse cx="0" cy="-0.5" rx="5" ry="2" fill="#e59290"/></g>
<g transform="translate(365.6,518.3) rotate(7.8)"><path d="M-21,4 Q0,-9 21,4 L21,6 L-21,6Z" fill="#f2a5a2" stroke="#dc8e8c" stroke-width="0.7"/><ellipse cx="0" cy="-0.5" rx="5" ry="2" fill="#e59290"/></g>
<g transform="translate(405.7,521.4) rotate(0.0)"><path d="M-21,4 Q0,-9 21,4 L21,6 L-21,6Z" fill="#f2a5a2" stroke="#dc8e8c" stroke-width="0.7"/><ellipse cx="0" cy="-0.5" rx="5" ry="2" fill="#e59290"/></g>
<g transform="translate(445.6,518.5) rotate(-8.6)"><path d="M-21,4 Q0,-9 21,4 L21,6 L-21,6Z" fill="#f2a5a2" stroke="#dc8e8c" stroke-width="0.7"/><ellipse cx="0" cy="-0.5" rx="5" ry="2" fill="#e59290"/></g>
<g transform="translate(485.2,509.7) rotate(-14.7)"><path d="M-21,4 Q0,-9 21,4 L21,6 L-21,6Z" fill="#f2a5a2" stroke="#dc8e8c" stroke-width="0.7"/><ellipse cx="0" cy="-0.5" rx="5" ry="2" fill="#e59290"/></g>
<g transform="translate(523.6,497.4) rotate(-22.1)"><path d="M-21,4 Q0,-9 21,4 L21,6 L-21,6Z" fill="#f2a5a2" stroke="#dc8e8c" stroke-width="0.7"/><ellipse cx="0" cy="-0.5" rx="5" ry="2" fill="#e59290"/></g>
<g transform="translate(559.8,480.0) rotate(-29.9)"><path d="M-21,4 Q0,-9 21,4 L21,6 L-21,6Z" fill="#f2a5a2" stroke="#dc8e8c" stroke-width="0.7"/><ellipse cx="0" cy="-0.5" rx="5" ry="2" fill="#e59290"/></g>
</g>
<circle cx="278" cy="452" r="15" fill="#f7d0d0" stroke="#e4a8a8" stroke-width="1" />
<circle cx="278" cy="452" r="8" fill="#f0b8b8" stroke="none" stroke-width="1" />
<path d="M306.0,468.0 C308.0,466.0 313.8,465.0 318.0,465.0 C322.2,465.0 329.0,465.8 331.0,468.0 C333.0,470.2 332.2,476.0 330.0,478.0 C327.8,480.0 322.0,480.2 318.0,480.0 C314.0,479.8 308.0,479.0 306.0,477.0 C304.0,475.0 304.0,470.0 306.0,468.0Z" fill="#c42228" stroke="#9c1c20" stroke-width="1" />
<g transform="translate(340,473) rotate(90) scale(1.0)" stroke="#8a7cc0" stroke-width="2.2" stroke-linecap="round" fill="none"><path d="M0,6 L0,0 L-4,-5 M0,0 L4,-5 M-2.5,-2 L-6,-6.5 M2.5,-2 L6,-6.5"/></g>
<g transform="translate(328,490) rotate(-20) scale(0.9)" stroke="#8a7cc0" stroke-width="2.2" stroke-linecap="round" fill="none"><path d="M0,6 L0,0 L-4,-5 M0,0 L4,-5 M-2.5,-2 L-6,-6.5 M2.5,-2 L6,-6.5"/></g>
<circle cx="398" cy="494" r="17" fill="#e4bade" stroke="#c89ac2" stroke-width="1" />
<circle cx="391.5" cy="490.5" r="3.6" fill="#c274b0" stroke="none" stroke-width="1" />
<circle cx="398" cy="499" r="4" fill="#c274b0" stroke="none" stroke-width="1" />
<circle cx="405" cy="491.5" r="3.6" fill="#c274b0" stroke="none" stroke-width="1" />
<path d="M393,492 Q398,503 404,493" fill="none" stroke="#c274b0" stroke-width="2.2" />
<path d="M434,457 C436,462 438,468 440,474 C446,474 458,478 463,488 C467,500 458,508 449,508 C438,508 431,500 433,489 C434,482 437,478 437,472 C436,466 434,461 431,457Z" fill="#e6b8dc" stroke="#c89ac0" stroke-width="1" />
<circle cx="430" cy="449.7" r="8" fill="#e6b8dc" stroke="#c89ac0" stroke-width="1" />
<path d="M440.0,480.0 C441.0,479.3 445.0,482.2 447.0,484.0 C449.0,485.8 450.2,489.2 452.0,491.0 C453.8,492.8 458.0,493.8 458.0,495.0 C458.0,496.2 454.2,498.0 452.0,498.0 C449.8,498.0 446.8,496.7 445.0,495.0 C443.2,493.3 441.8,490.5 441.0,488.0 C440.2,485.5 439.0,480.7 440.0,480.0Z" fill="#c274b0" stroke="none" stroke-width="1" />
<circle cx="429" cy="451" r="2.5" fill="#c274b0" stroke="none" stroke-width="1" />
<circle cx="510" cy="472.5" r="23.5" fill="#efdcf3" stroke="#c9a9da" stroke-width="1.2" />
<circle cx="510" cy="469" r="14" fill="#e0c4ea" stroke="none" stroke-width="1" />
<text x="510" y="472" font-size="7.5" fill="#3a2a4a" font-weight="normal" text-anchor="middle" >Memory</text>
<text x="510" y="480.5" font-size="7.5" fill="#3a2a4a" font-weight="normal" text-anchor="middle" >B cell</text>
<text x="292" y="468" font-size="9.5" fill="#222" font-weight="normal" text-anchor="middle" >plasma</text>
<text x="292" y="480" font-size="9.5" fill="#222" font-weight="normal" text-anchor="middle" >cell</text>
<line x1="389.8" y1="37.3" x2="392.1" y2="37.3" stroke="#dc7f3c" stroke-width="1.1" />
<circle cx="392.4" cy="37.3" r="1.0" fill="#dc7f3c" stroke="none" stroke-width="1" />
<line x1="389.1" y1="39.6" x2="391.1" y2="40.9" stroke="#dc7f3c" stroke-width="1.1" />
<circle cx="391.3" cy="41.0" r="1.0" fill="#dc7f3c" stroke="none" stroke-width="1" />
<line x1="387.3" y1="41.2" x2="388.2" y2="43.3" stroke="#dc7f3c" stroke-width="1.1" />
<circle cx="388.4" cy="43.6" r="1.0" fill="#dc7f3c" stroke="none" stroke-width="1" />
<line x1="384.9" y1="41.6" x2="384.6" y2="43.8" stroke="#dc7f3c" stroke-width="1.1" />
<circle cx="384.5" cy="44.1" r="1.0" fill="#dc7f3c" stroke="none" stroke-width="1" />
<line x1="382.7" y1="40.5" x2="381.2" y2="42.3" stroke="#dc7f3c" stroke-width="1.1" />
<circle cx="381.0" cy="42.5" r="1.0" fill="#dc7f3c" stroke="none" stroke-width="1" />
<line x1="381.4" y1="38.5" x2="379.2" y2="39.2" stroke="#dc7f3c" stroke-width="1.1" />
<circle cx="378.9" cy="39.2" r="1.0" fill="#dc7f3c" stroke="none" stroke-width="1" />
<line x1="381.4" y1="36.1" x2="379.2" y2="35.4" stroke="#dc7f3c" stroke-width="1.1" />
<circle cx="378.9" cy="35.4" r="1.0" fill="#dc7f3c" stroke="none" stroke-width="1" />
<line x1="382.7" y1="34.1" x2="381.2" y2="32.3" stroke="#dc7f3c" stroke-width="1.1" />
<circle cx="381.0" cy="32.1" r="1.0" fill="#dc7f3c" stroke="none" stroke-width="1" />
<line x1="384.9" y1="33.0" x2="384.6" y2="30.8" stroke="#dc7f3c" stroke-width="1.1" />
<circle cx="384.5" cy="30.5" r="1.0" fill="#dc7f3c" stroke="none" stroke-width="1" />
<line x1="387.3" y1="33.4" x2="388.2" y2="31.3" stroke="#dc7f3c" stroke-width="1.1" />
<circle cx="388.4" cy="31.0" r="1.0" fill="#dc7f3c" stroke="none" stroke-width="1" />
<line x1="389.1" y1="35.0" x2="391.1" y2="33.7" stroke="#dc7f3c" stroke-width="1.1" />
<circle cx="391.3" cy="33.6" r="1.0" fill="#dc7f3c" stroke="none" stroke-width="1" />
<circle cx="385.5" cy="37.3" r="4.3" fill="#dc7f3c" stroke="none" stroke-width="1" />
<circle cx="385.5" cy="37.3" r="2.5799999999999996" fill="#d06f30" stroke="none" stroke-width="1" />
<line x1="410.6" y1="40.8" x2="412.9" y2="40.8" stroke="#dc7f3c" stroke-width="1.1" />
<circle cx="413.2" cy="40.8" r="1.0" fill="#dc7f3c" stroke="none" stroke-width="1" />
<line x1="409.9" y1="43.1" x2="411.9" y2="44.4" stroke="#dc7f3c" stroke-width="1.1" />
<circle cx="412.1" cy="44.5" r="1.0" fill="#dc7f3c" stroke="none" stroke-width="1" />
<line x1="408.1" y1="44.7" x2="409.0" y2="46.8" stroke="#dc7f3c" stroke-width="1.1" />
<circle cx="409.2" cy="47.1" r="1.0" fill="#dc7f3c" stroke="none" stroke-width="1" />
<line x1="405.7" y1="45.1" x2="405.4" y2="47.3" stroke="#dc7f3c" stroke-width="1.1" />
<circle cx="405.3" cy="47.6" r="1.0" fill="#dc7f3c" stroke="none" stroke-width="1" />
<line x1="403.5" y1="44.0" x2="402.0" y2="45.8" stroke="#dc7f3c" stroke-width="1.1" />
<circle cx="401.8" cy="46.0" r="1.0" fill="#dc7f3c" stroke="none" stroke-width="1" />
<line x1="402.2" y1="42.0" x2="400.0" y2="42.7" stroke="#dc7f3c" stroke-width="1.1" />
<circle cx="399.7" cy="42.7" r="1.0" fill="#dc7f3c" stroke="none" stroke-width="1" />
<line x1="402.2" y1="39.6" x2="400.0" y2="38.9" stroke="#dc7f3c" stroke-width="1.1" />
<circle cx="399.7" cy="38.9" r="1.0" fill="#dc7f3c" stroke="none" stroke-width="1" />
<line x1="403.5" y1="37.6" x2="402.0" y2="35.8" stroke="#dc7f3c" stroke-width="1.1" />
<circle cx="401.8" cy="35.6" r="1.0" fill="#dc7f3c" stroke="none" stroke-width="1" />
<line x1="405.7" y1="36.5" x2="405.4" y2="34.3" stroke="#dc7f3c" stroke-width="1.1" />
<circle cx="405.3" cy="34.0" r="1.0" fill="#dc7f3c" stroke="none" stroke-width="1" />
<line x1="408.1" y1="36.9" x2="409.0" y2="34.8" stroke="#dc7f3c" stroke-width="1.1" />
<circle cx="409.2" cy="34.5" r="1.0" fill="#dc7f3c" stroke="none" stroke-width="1" />
<line x1="409.9" y1="38.5" x2="411.9" y2="37.2" stroke="#dc7f3c" stroke-width="1.1" />
<circle cx="412.1" cy="37.1" r="1.0" fill="#dc7f3c" stroke="none" stroke-width="1" />
<circle cx="406.3" cy="40.8" r="4.3" fill="#dc7f3c" stroke="none" stroke-width="1" />
<circle cx="406.3" cy="40.8" r="2.5799999999999996" fill="#d06f30" stroke="none" stroke-width="1" />
<line x1="370.8" y1="52.0" x2="373.1" y2="52.0" stroke="#dc7f3c" stroke-width="1.1" />
<circle cx="373.4" cy="52.0" r="1.0" fill="#dc7f3c" stroke="none" stroke-width="1" />
<line x1="370.1" y1="54.3" x2="372.1" y2="55.6" stroke="#dc7f3c" stroke-width="1.1" />
<circle cx="372.3" cy="55.7" r="1.0" fill="#dc7f3c" stroke="none" stroke-width="1" />
<line x1="368.3" y1="55.9" x2="369.2" y2="58.0" stroke="#dc7f3c" stroke-width="1.1" />
<circle cx="369.4" cy="58.3" r="1.0" fill="#dc7f3c" stroke="none" stroke-width="1" />
<line x1="365.9" y1="56.3" x2="365.6" y2="58.5" stroke="#dc7f3c" stroke-width="1.1" />
<circle cx="365.5" cy="58.8" r="1.0" fill="#dc7f3c" stroke="none" stroke-width="1" />
<line x1="363.7" y1="55.2" x2="362.2" y2="57.0" stroke="#dc7f3c" stroke-width="1.1" />
<circle cx="362.0" cy="57.2" r="1.0" fill="#dc7f3c" stroke="none" stroke-width="1" />
<line x1="362.4" y1="53.2" x2="360.2" y2="53.9" stroke="#dc7f3c" stroke-width="1.1" />
<circle cx="359.9" cy="53.9" r="1.0" fill="#dc7f3c" stroke="none" stroke-width="1" />
<line x1="362.4" y1="50.8" x2="360.2" y2="50.1" stroke="#dc7f3c" stroke-width="1.1" />
<circle cx="359.9" cy="50.1" r="1.0" fill="#dc7f3c" stroke="none" stroke-width="1" />
<line x1="363.7" y1="48.8" x2="362.2" y2="47.0" stroke="#dc7f3c" stroke-width="1.1" />
<circle cx="362.0" cy="46.8" r="1.0" fill="#dc7f3c" stroke="none" stroke-width="1" />
<line x1="365.9" y1="47.7" x2="365.6" y2="45.5" stroke="#dc7f3c" stroke-width="1.1" />
<circle cx="365.5" cy="45.2" r="1.0" fill="#dc7f3c" stroke="none" stroke-width="1" />
<line x1="368.3" y1="48.1" x2="369.2" y2="46.0" stroke="#dc7f3c" stroke-width="1.1" />
<circle cx="369.4" cy="45.7" r="1.0" fill="#dc7f3c" stroke="none" stroke-width="1" />
<line x1="370.1" y1="49.7" x2="372.1" y2="48.4" stroke="#dc7f3c" stroke-width="1.1" />
<circle cx="372.3" cy="48.3" r="1.0" fill="#dc7f3c" stroke="none" stroke-width="1" />
<circle cx="366.5" cy="52" r="4.3" fill="#dc7f3c" stroke="none" stroke-width="1" />
<circle cx="366.5" cy="52" r="2.5799999999999996" fill="#d06f30" stroke="none" stroke-width="1" />
<line x1="390.7" y1="55.5" x2="393.0" y2="55.5" stroke="#dc7f3c" stroke-width="1.1" />
<circle cx="393.3" cy="55.5" r="1.0" fill="#dc7f3c" stroke="none" stroke-width="1" />
<line x1="390.0" y1="57.8" x2="392.0" y2="59.1" stroke="#dc7f3c" stroke-width="1.1" />
<circle cx="392.2" cy="59.2" r="1.0" fill="#dc7f3c" stroke="none" stroke-width="1" />
<line x1="388.2" y1="59.4" x2="389.1" y2="61.5" stroke="#dc7f3c" stroke-width="1.1" />
<circle cx="389.3" cy="61.8" r="1.0" fill="#dc7f3c" stroke="none" stroke-width="1" />
<line x1="385.8" y1="59.8" x2="385.5" y2="62.0" stroke="#dc7f3c" stroke-width="1.1" />
<circle cx="385.4" cy="62.3" r="1.0" fill="#dc7f3c" stroke="none" stroke-width="1" />
<line x1="383.6" y1="58.7" x2="382.1" y2="60.5" stroke="#dc7f3c" stroke-width="1.1" />
<circle cx="381.9" cy="60.7" r="1.0" fill="#dc7f3c" stroke="none" stroke-width="1" />
<line x1="382.3" y1="56.7" x2="380.1" y2="57.4" stroke="#dc7f3c" stroke-width="1.1" />
<circle cx="379.8" cy="57.4" r="1.0" fill="#dc7f3c" stroke="none" stroke-width="1" />
<line x1="382.3" y1="54.3" x2="380.1" y2="53.6" stroke="#dc7f3c" stroke-width="1.1" />
<circle cx="379.8" cy="53.6" r="1.0" fill="#dc7f3c" stroke="none" stroke-width="1" />
<line x1="383.6" y1="52.3" x2="382.1" y2="50.5" stroke="#dc7f3c" stroke-width="1.1" />
<circle cx="381.9" cy="50.3" r="1.0" fill="#dc7f3c" stroke="none" stroke-width="1" />
<line x1="385.8" y1="51.2" x2="385.5" y2="49.0" stroke="#dc7f3c" stroke-width="1.1" />
<circle cx="385.4" cy="48.7" r="1.0" fill="#dc7f3c" stroke="none" stroke-width="1" />
<line x1="388.2" y1="51.6" x2="389.1" y2="49.5" stroke="#dc7f3c" stroke-width="1.1" />
<circle cx="389.3" cy="49.2" r="1.0" fill="#dc7f3c" stroke="none" stroke-width="1" />
<line x1="390.0" y1="53.2" x2="392.0" y2="51.9" stroke="#dc7f3c" stroke-width="1.1" />
<circle cx="392.2" cy="51.8" r="1.0" fill="#dc7f3c" stroke="none" stroke-width="1" />
<circle cx="386.4" cy="55.5" r="4.3" fill="#dc7f3c" stroke="none" stroke-width="1" />
<circle cx="386.4" cy="55.5" r="2.5799999999999996" fill="#d06f30" stroke="none" stroke-width="1" />
<line x1="407.2" y1="66.0" x2="409.5" y2="66.0" stroke="#dc7f3c" stroke-width="1.1" />
<circle cx="409.8" cy="66.0" r="1.0" fill="#dc7f3c" stroke="none" stroke-width="1" />
<line x1="406.5" y1="68.3" x2="408.5" y2="69.6" stroke="#dc7f3c" stroke-width="1.1" />
<circle cx="408.7" cy="69.7" r="1.0" fill="#dc7f3c" stroke="none" stroke-width="1" />
<line x1="404.7" y1="69.9" x2="405.6" y2="72.0" stroke="#dc7f3c" stroke-width="1.1" />
<circle cx="405.8" cy="72.3" r="1.0" fill="#dc7f3c" stroke="none" stroke-width="1" />
<line x1="402.3" y1="70.3" x2="402.0" y2="72.5" stroke="#dc7f3c" stroke-width="1.1" />
<circle cx="401.9" cy="72.8" r="1.0" fill="#dc7f3c" stroke="none" stroke-width="1" />
<line x1="400.1" y1="69.2" x2="398.6" y2="71.0" stroke="#dc7f3c" stroke-width="1.1" />
<circle cx="398.4" cy="71.2" r="1.0" fill="#dc7f3c" stroke="none" stroke-width="1" />
<line x1="398.8" y1="67.2" x2="396.6" y2="67.9" stroke="#dc7f3c" stroke-width="1.1" />
<circle cx="396.3" cy="67.9" r="1.0" fill="#dc7f3c" stroke="none" stroke-width="1" />
<line x1="398.8" y1="64.8" x2="396.6" y2="64.1" stroke="#dc7f3c" stroke-width="1.1" />
<circle cx="396.3" cy="64.1" r="1.0" fill="#dc7f3c" stroke="none" stroke-width="1" />
<line x1="400.1" y1="62.8" x2="398.6" y2="61.0" stroke="#dc7f3c" stroke-width="1.1" />
<circle cx="398.4" cy="60.8" r="1.0" fill="#dc7f3c" stroke="none" stroke-width="1" />
<line x1="402.3" y1="61.7" x2="402.0" y2="59.5" stroke="#dc7f3c" stroke-width="1.1" />
<circle cx="401.9" cy="59.2" r="1.0" fill="#dc7f3c" stroke="none" stroke-width="1" />
<line x1="404.7" y1="62.1" x2="405.6" y2="60.0" stroke="#dc7f3c" stroke-width="1.1" />
<circle cx="405.8" cy="59.7" r="1.0" fill="#dc7f3c" stroke="none" stroke-width="1" />
<line x1="406.5" y1="63.7" x2="408.5" y2="62.4" stroke="#dc7f3c" stroke-width="1.1" />
<circle cx="408.7" cy="62.3" r="1.0" fill="#dc7f3c" stroke="none" stroke-width="1" />
<circle cx="402.9" cy="66" r="4.3" fill="#dc7f3c" stroke="none" stroke-width="1" />
<circle cx="402.9" cy="66" r="2.5799999999999996" fill="#d06f30" stroke="none" stroke-width="1" />
<line x1="386.3" y1="72.0" x2="388.6" y2="72.0" stroke="#dc7f3c" stroke-width="1.1" />
<circle cx="388.9" cy="72.0" r="1.0" fill="#dc7f3c" stroke="none" stroke-width="1" />
<line x1="385.6" y1="74.3" x2="387.6" y2="75.6" stroke="#dc7f3c" stroke-width="1.1" />
<circle cx="387.8" cy="75.7" r="1.0" fill="#dc7f3c" stroke="none" stroke-width="1" />
<line x1="383.8" y1="75.9" x2="384.7" y2="78.0" stroke="#dc7f3c" stroke-width="1.1" />
<circle cx="384.9" cy="78.3" r="1.0" fill="#dc7f3c" stroke="none" stroke-width="1" />
<line x1="381.4" y1="76.3" x2="381.1" y2="78.5" stroke="#dc7f3c" stroke-width="1.1" />
<circle cx="381.0" cy="78.8" r="1.0" fill="#dc7f3c" stroke="none" stroke-width="1" />
<line x1="379.2" y1="75.2" x2="377.7" y2="77.0" stroke="#dc7f3c" stroke-width="1.1" />
<circle cx="377.5" cy="77.2" r="1.0" fill="#dc7f3c" stroke="none" stroke-width="1" />
<line x1="377.9" y1="73.2" x2="375.7" y2="73.9" stroke="#dc7f3c" stroke-width="1.1" />
<circle cx="375.4" cy="73.9" r="1.0" fill="#dc7f3c" stroke="none" stroke-width="1" />
<line x1="377.9" y1="70.8" x2="375.7" y2="70.1" stroke="#dc7f3c" stroke-width="1.1" />
<circle cx="375.4" cy="70.1" r="1.0" fill="#dc7f3c" stroke="none" stroke-width="1" />
<line x1="379.2" y1="68.8" x2="377.7" y2="67.0" stroke="#dc7f3c" stroke-width="1.1" />
<circle cx="377.5" cy="66.8" r="1.0" fill="#dc7f3c" stroke="none" stroke-width="1" />
<line x1="381.4" y1="67.7" x2="381.1" y2="65.5" stroke="#dc7f3c" stroke-width="1.1" />
<circle cx="381.0" cy="65.2" r="1.0" fill="#dc7f3c" stroke="none" stroke-width="1" />
<line x1="383.8" y1="68.1" x2="384.7" y2="66.0" stroke="#dc7f3c" stroke-width="1.1" />
<circle cx="384.9" cy="65.7" r="1.0" fill="#dc7f3c" stroke="none" stroke-width="1" />
<line x1="385.6" y1="69.7" x2="387.6" y2="68.4" stroke="#dc7f3c" stroke-width="1.1" />
<circle cx="387.8" cy="68.3" r="1.0" fill="#dc7f3c" stroke="none" stroke-width="1" />
<circle cx="382" cy="72" r="4.3" fill="#dc7f3c" stroke="none" stroke-width="1" />
<circle cx="382" cy="72" r="2.5799999999999996" fill="#d06f30" stroke="none" stroke-width="1" />
<circle cx="355.2" cy="84" r="1.8" fill="#2a7a6a" stroke="none" stroke-width="1" />
<circle cx="364.2" cy="81.5" r="1.8" fill="#8e3444" stroke="none" stroke-width="1" />
<circle cx="375.6" cy="81.5" r="1.8" fill="#2a7a6a" stroke="none" stroke-width="1" />
<circle cx="360.7" cy="91" r="1.8" fill="#2a7a6a" stroke="none" stroke-width="1" />
<circle cx="370.8" cy="89.3" r="2.4" fill="#2a7a6a" stroke="none" stroke-width="1" />
<circle cx="380.8" cy="90.2" r="2.2" fill="#2a7a6a" stroke="none" stroke-width="1" />
<circle cx="352" cy="95.4" r="1.6" fill="#8e3444" stroke="none" stroke-width="1" />
<circle cx="359.5" cy="98.9" r="1.8" fill="#8e3444" stroke="none" stroke-width="1" />
<circle cx="368.7" cy="98.9" r="1.8" fill="#2a7a6a" stroke="none" stroke-width="1" />
<circle cx="376" cy="100.6" r="1.8" fill="#8e3444" stroke="none" stroke-width="1" />
<circle cx="384.7" cy="103.2" r="2.4" fill="#2a7a6a" stroke="none" stroke-width="1" />
<circle cx="353" cy="105" r="1.6" fill="#2a7a6a" stroke="none" stroke-width="1" />
<circle cx="362" cy="106.7" r="1.8" fill="#2a7a6a" stroke="none" stroke-width="1" />
<circle cx="371" cy="108.4" r="1.8" fill="#8e3444" stroke="none" stroke-width="1" />
<circle cx="357" cy="110" r="1.6" fill="#8e3444" stroke="none" stroke-width="1" />
<circle cx="347" cy="90" r="1.5" fill="#8e3444" stroke="none" stroke-width="1" />
<circle cx="388" cy="84" r="1.6" fill="#8e3444" stroke="none" stroke-width="1" />
<line x1="345" y1="88" x2="316.24806148537084" y2="67.3345441926103" stroke="#8a9aa0" stroke-width="0.9" />
<polygon points="313.0,65.0 317.7,65.3 314.8,69.4" fill="#8a9aa0"/>
<path d="M248,128 C262,140 280,146 293,146" fill="none" stroke="#8a9aa0" stroke-width="0.9" />
<line x1="292" y1="146" x2="294.0" y2="146.0" stroke="#8a9aa0" stroke-width="0.9" />
<polygon points="298.0,146.0 294.0,148.5 294.0,143.5" fill="#8a9aa0"/>
<path d="M362.9,143.0 C363.1,144.2 363.5,145.5 363.4,146.7 C363.2,147.9 362.5,149.1 361.9,150.2 C361.3,151.3 360.5,152.2 360.0,153.3 C359.5,154.4 359.4,155.6 359.0,156.8 C358.6,157.9 358.2,159.3 357.5,160.2 C356.7,161.1 355.5,161.7 354.4,162.3 C353.4,162.9 352.2,163.2 351.2,163.8 C350.3,164.5 349.5,165.5 348.6,166.2 C347.6,166.9 346.6,167.9 345.5,168.2 C344.4,168.5 343.1,168.3 341.9,168.2 C340.7,168.2 339.6,167.7 338.4,167.7 C337.2,167.7 336.1,168.2 334.9,168.2 C333.7,168.3 332.4,168.5 331.3,168.2 C330.2,167.9 329.2,166.9 328.2,166.2 C327.3,165.5 326.5,164.5 325.6,163.8 C324.6,163.2 323.4,162.9 322.4,162.3 C321.3,161.7 320.1,161.1 319.3,160.2 C318.6,159.3 318.2,157.9 317.8,156.8 C317.4,155.6 317.3,154.4 316.8,153.3 C316.3,152.2 315.5,151.3 314.9,150.2 C314.3,149.1 313.6,147.9 313.4,146.7 C313.3,145.5 313.7,144.2 313.9,143.0 C314.1,141.8 314.7,140.7 314.9,139.5 C315.0,138.3 314.8,137.0 314.9,135.8 C315.0,134.6 315.0,133.2 315.4,132.1 C315.9,131.0 317.0,130.1 317.8,129.2 C318.6,128.3 319.7,127.7 320.4,126.8 C321.2,125.9 321.6,124.7 322.4,123.7 C323.1,122.7 323.8,121.6 324.8,120.9 C325.7,120.3 327.1,120.1 328.2,119.8 C329.4,119.5 330.6,119.6 331.7,119.3 C332.8,118.9 333.8,118.2 334.9,117.8 C336.0,117.3 337.2,116.7 338.4,116.7 C339.6,116.7 340.8,117.3 341.9,117.8 C343.0,118.2 344.0,118.9 345.1,119.3 C346.2,119.6 347.4,119.5 348.6,119.8 C349.7,120.1 351.1,120.3 352.0,120.9 C353.0,121.6 353.7,122.7 354.4,123.7 C355.2,124.7 355.6,125.9 356.4,126.8 C357.1,127.7 358.2,128.3 359.0,129.2 C359.8,130.1 360.9,131.0 361.4,132.1 C361.8,133.2 361.8,134.6 361.9,135.8 C362.0,137.0 361.8,138.3 361.9,139.5 C362.1,140.7 362.7,141.8 362.9,143.0Z" fill="#bdaee3" stroke="#a291d3" stroke-width="1" />
<path d="M324.0,149.6 C324.9,147.7 326.9,145.0 329.2,143.8 C331.5,142.6 335.9,144.1 338.0,142.3 C340.1,140.5 339.9,134.7 341.6,132.8 C343.3,130.9 345.9,130.6 348.2,131.0 C350.5,131.4 354.2,132.4 355.5,135.0 C356.8,137.6 356.9,143.0 356.2,146.7 C355.4,150.4 353.6,154.4 351.0,157.0 C348.4,159.6 344.5,161.3 340.9,162.0 C337.3,162.7 332.0,162.4 329.2,161.3 C326.4,160.2 324.9,157.4 324.0,155.5 C323.1,153.6 323.1,151.5 324.0,149.6Z" fill="#9d8ad0" stroke="#8f7cc0" stroke-width="0.8" />
<rect x="392" y="114" width="65" height="55" rx="7" fill="#f8f1e8" stroke="#9a9a9a" stroke-width="1" />
<path d="M451.0,141.0 C451.0,142.3 444.9,143.2 444.6,144.9 C444.3,146.6 449.5,149.7 449.0,150.9 C448.5,152.2 442.6,150.7 441.6,152.1 C440.7,153.5 444.3,158.5 443.4,159.4 C442.5,160.3 437.5,156.7 436.1,157.6 C434.7,158.6 436.2,164.5 434.9,165.0 C433.7,165.5 430.6,160.3 428.9,160.6 C427.2,160.9 426.3,167.0 425.0,167.0 C423.7,167.0 422.8,160.9 421.1,160.6 C419.4,160.3 416.3,165.5 415.1,165.0 C413.8,164.5 415.3,158.6 413.9,157.6 C412.5,156.7 407.5,160.3 406.6,159.4 C405.7,158.5 409.3,153.5 408.4,152.1 C407.4,150.7 401.5,152.2 401.0,150.9 C400.5,149.7 405.7,146.6 405.4,144.9 C405.1,143.2 399.0,142.3 399.0,141.0 C399.0,139.7 405.1,138.8 405.4,137.1 C405.7,135.4 400.5,132.3 401.0,131.1 C401.5,129.8 407.4,131.3 408.4,129.9 C409.3,128.5 405.7,123.5 406.6,122.6 C407.5,121.7 412.5,125.3 413.9,124.4 C415.3,123.4 413.8,117.5 415.1,117.0 C416.3,116.5 419.4,121.7 421.1,121.4 C422.8,121.1 423.7,115.0 425.0,115.0 C426.3,115.0 427.2,121.1 428.9,121.4 C430.6,121.7 433.7,116.5 434.9,117.0 C436.2,117.5 434.7,123.4 436.1,124.4 C437.5,125.3 442.5,121.7 443.4,122.6 C444.3,123.5 440.7,128.5 441.6,129.9 C442.6,131.3 448.5,129.8 449.0,131.1 C449.5,132.3 444.3,135.4 444.6,137.1 C444.9,138.8 451.0,139.7 451.0,141.0Z" fill="#d8e6f0" stroke="#8fb4cc" stroke-width="1" />
<circle cx="424" cy="142" r="12" fill="#9fc1d8" stroke="none" stroke-width="1" />
<line x1="369" y1="152.5" x2="389.0" y2="152.5" stroke="#555" stroke-width="0.9" />
<polygon points="393.0,152.5 389.0,155.0 389.0,150.0" fill="#555"/>
<circle cx="486" cy="154" r="19" fill="#e9b7d8" stroke="#c587b5" stroke-width="1" />
<path d="M478.0,145.0 C480.3,142.3 487.5,140.8 490.0,142.0 C492.5,143.2 493.7,149.0 493.0,152.0 C492.3,155.0 485.8,157.7 486.0,160.0 C486.2,162.3 494.7,164.7 494.0,166.0 C493.3,167.3 485.0,169.3 482.0,168.0 C479.0,166.7 476.7,161.8 476.0,158.0 C475.3,154.2 475.7,147.7 478.0,145.0Z" fill="#c45c9c" stroke="none" stroke-width="1" />
<circle cx="287.4" cy="213.8" r="21" fill="#d6edd2" stroke="#9ccc96" stroke-width="1.2" />
<ellipse cx="290" cy="218.5" rx="14" ry="12" fill="#b5ddb0" stroke="none" stroke-width="1" />
<circle cx="268" cy="205" r="0.9" fill="#a8d8a8" stroke="none" stroke-width="1" />
<circle cx="280" cy="200" r="0.9" fill="#a8d8a8" stroke="none" stroke-width="1" />
<circle cx="296" cy="201" r="0.9" fill="#a8d8a8" stroke="none" stroke-width="1" />
<circle cx="303" cy="208" r="0.9" fill="#a8d8a8" stroke="none" stroke-width="1" />
<circle cx="274" cy="213" r="0.9" fill="#a8d8a8" stroke="none" stroke-width="1" />
<circle cx="300" cy="198" r="0.9" fill="#a8d8a8" stroke="none" stroke-width="1" />
<circle cx="278.3" cy="218.4" r="1.8" fill="#a8383a" stroke="none" stroke-width="1" />
<circle cx="287.4" cy="214.7" r="1.8" fill="#a8383a" stroke="none" stroke-width="1" />
<circle cx="298.4" cy="215.7" r="1.8" fill="#a8383a" stroke="none" stroke-width="1" />
<circle cx="293.8" cy="223.9" r="2.4" fill="#a8383a" stroke="none" stroke-width="1" />
<circle cx="283.8" cy="224.8" r="1.6" fill="#a8383a" stroke="none" stroke-width="1" />
<circle cx="303" cy="224.8" r="1.8" fill="#a8383a" stroke="none" stroke-width="1" />
<circle cx="275.6" cy="229.4" r="1.6" fill="#a8383a" stroke="none" stroke-width="1" />
<circle cx="282.5" cy="233" r="1.8" fill="#a8383a" stroke="none" stroke-width="1" />
<circle cx="292" cy="233" r="1.6" fill="#a8383a" stroke="none" stroke-width="1" />
<circle cx="299" cy="234.8" r="1.6" fill="#a8383a" stroke="none" stroke-width="1" />
<circle cx="307" cy="237.6" r="2.3" fill="#a8383a" stroke="none" stroke-width="1" />
<circle cx="270" cy="233" r="1.3" fill="#a8383a" stroke="none" stroke-width="1" />
<circle cx="276.5" cy="239" r="1.4" fill="#a8383a" stroke="none" stroke-width="1" />
<circle cx="284.7" cy="241.6" r="1.6" fill="#a8383a" stroke="none" stroke-width="1" />
<circle cx="293.8" cy="242.7" r="1.6" fill="#a8383a" stroke="none" stroke-width="1" />
<circle cx="271" cy="239.8" r="1.2" fill="#a8383a" stroke="none" stroke-width="1" />
<rect x="318" y="198" width="66" height="51" rx="7" fill="#fbf0e2" stroke="#9a9a9a" stroke-width="1" />
<path d="M349,222.3 L321,222" fill="none" stroke="#f3c4a0" stroke-width="3.2" stroke-linecap="round"/>
<path d="M349,222.3 L336,200" fill="none" stroke="#f3c4a0" stroke-width="3.2" stroke-linecap="round"/>
<path d="M349,222.3 L367,204" fill="none" stroke="#f3c4a0" stroke-width="3.2" stroke-linecap="round"/>
<path d="M349,222.3 L374,238.6" fill="none" stroke="#f3c4a0" stroke-width="3.2" stroke-linecap="round"/>
<path d="M349,222.3 L359.4,248" fill="none" stroke="#f3c4a0" stroke-width="3.2" stroke-linecap="round"/>
<path d="M349,222.3 L337.4,246" fill="none" stroke="#f3c4a0" stroke-width="3.2" stroke-linecap="round"/>
<path d="M349,222.3 L372,214" fill="none" stroke="#f3c4a0" stroke-width="3.2" stroke-linecap="round"/>
<circle cx="349" cy="222.3" r="13.4" fill="#f7cba8" stroke="#f0b890" stroke-width="0.8" />
<ellipse cx="347" cy="223.3" rx="6.7" ry="8" fill="#f2a88c" stroke="none" stroke-width="1" />
<line x1="349.5" y1="185" x2="349.5" y2="201.0" stroke="#222" stroke-width="1" />
<polygon points="349.5,206.0 346.5,201.0 352.5,201.0" fill="#222"/>
<line x1="369" y1="232" x2="391.0" y2="232.0" stroke="#222" stroke-width="1" />
<polygon points="396.0,232.0 391.0,235.0 391.0,229.0" fill="#222"/>
<line x1="429.5" y1="189" x2="429.5" y2="208.0" stroke="#222" stroke-width="1" />
<polygon points="429.5,213.0 426.5,208.0 432.5,208.0" fill="#222"/>
<circle cx="434.1" cy="228.2" r="2.6" fill="#e27a3c" stroke="none" stroke-width="1" />
<circle cx="450.1" cy="228.1" r="2.7" fill="#e27a3c" stroke="none" stroke-width="1" />
<circle cx="404.5" cy="217.7" r="2.7" fill="#e27a3c" stroke="none" stroke-width="1" />
<circle cx="435.4" cy="234.2" r="1.7" fill="#e27a3c" stroke="none" stroke-width="1" />
<circle cx="426.5" cy="209.4" r="2.3" fill="#e27a3c" stroke="none" stroke-width="1" />
<circle cx="431.7" cy="200.5" r="1.9" fill="#e27a3c" stroke="none" stroke-width="1" />
<circle cx="417.0" cy="234.8" r="2.5" fill="#e27a3c" stroke="none" stroke-width="1" />
<circle cx="411.0" cy="230.3" r="1.8" fill="#e27a3c" stroke="none" stroke-width="1" />
<circle cx="433.9" cy="204.8" r="1.6" fill="#e27a3c" stroke="none" stroke-width="1" />
<circle cx="446.6" cy="208.0" r="1.9" fill="#e27a3c" stroke="none" stroke-width="1" />
<circle cx="452.1" cy="233.2" r="1.9" fill="#e27a3c" stroke="none" stroke-width="1" />
<circle cx="451.1" cy="220.5" r="2.4" fill="#e27a3c" stroke="none" stroke-width="1" />
<circle cx="413.2" cy="235.8" r="2.4" fill="#e27a3c" stroke="none" stroke-width="1" />
<circle cx="451.3" cy="234.0" r="2.0" fill="#e27a3c" stroke="none" stroke-width="1" />
<circle cx="421.1" cy="206.3" r="1.8" fill="#e27a3c" stroke="none" stroke-width="1" />
<circle cx="406.3" cy="211.5" r="2.3" fill="#e27a3c" stroke="none" stroke-width="1" />
<circle cx="403.2" cy="225.8" r="2.0" fill="#e27a3c" stroke="none" stroke-width="1" />
<circle cx="418.5" cy="231.1" r="2.2" fill="#e27a3c" stroke="none" stroke-width="1" />
<circle cx="418.8" cy="218.3" r="2.4" fill="#e27a3c" stroke="none" stroke-width="1" />
<circle cx="405.9" cy="237.1" r="1.6" fill="#e27a3c" stroke="none" stroke-width="1" />
<circle cx="280" cy="288" r="21" fill="#e52a2c" stroke="#c21f22" stroke-width="1" />
<circle cx="282.52" cy="292.2" r="15.12" fill="#d21f23" stroke="none" stroke-width="1" />
<circle cx="369" cy="283" r="18" fill="#e52a2c" stroke="#c21f22" stroke-width="1" />
<circle cx="371.16" cy="286.6" r="12.959999999999999" fill="#d21f23" stroke="none" stroke-width="1" />
<circle cx="360" cy="276" r="1.3" fill="#b01a1e" stroke="none" stroke-width="1" />
<circle cx="375" cy="274" r="1.3" fill="#b01a1e" stroke="none" stroke-width="1" />
<circle cx="380" cy="290" r="1.3" fill="#b01a1e" stroke="none" stroke-width="1" />
<circle cx="362" cy="293" r="1.3" fill="#b01a1e" stroke="none" stroke-width="1" />
<circle cx="370" cy="285" r="1.3" fill="#b01a1e" stroke="none" stroke-width="1" />
<circle cx="329.5" cy="313.6" r="12" fill="#e52a2c" stroke="#c21f22" stroke-width="1" />
<circle cx="330.94" cy="316.0" r="8.64" fill="#d21f23" stroke="none" stroke-width="1" />
<circle cx="293" cy="342" r="10" fill="#e52a2c" stroke="#c21f22" stroke-width="1" />
<circle cx="294.2" cy="344.0" r="7.199999999999999" fill="#d21f23" stroke="none" stroke-width="1" />
<circle cx="310" cy="350" r="10" fill="#e52a2c" stroke="#c21f22" stroke-width="1" />
<circle cx="311.2" cy="352.0" r="7.199999999999999" fill="#d21f23" stroke="none" stroke-width="1" />
<circle cx="335" cy="343" r="12" fill="#e52a2c" stroke="#c21f22" stroke-width="1" />
<circle cx="336.44" cy="345.4" r="8.64" fill="#d21f23" stroke="none" stroke-width="1" />
<circle cx="453" cy="378.5" r="14" fill="#e52a2c" stroke="#c21f22" stroke-width="1" />
<circle cx="454.68" cy="381.3" r="10.08" fill="#d21f23" stroke="none" stroke-width="1" />
<line x1="301" y1="283" x2="332.0019278967364" y2="283.8611646637982" stroke="#333" stroke-width="1" />
<polygon points="337.0,284.0 331.9,286.9 332.1,280.9" fill="#333"/>
<line x1="290" y1="310" x2="307.3010328825578" y2="316.2912846845665" stroke="#333" stroke-width="1" />
<polygon points="312.0,318.0 306.3,319.1 308.3,313.5" fill="#333"/>
<path d="M343,348 L357,357" fill="none" stroke="#9a70b0" stroke-width="3" />
<path d="M360.4,354.6 Q358.7,349.4 360.9,344.5" fill="none" stroke="#a5672f" stroke-width="2.2" stroke-linecap="round"/>
<path d="M367.4,356.2 Q371.5,351.8 371.7,345.9" fill="none" stroke="#a5672f" stroke-width="2.2" stroke-linecap="round"/>
<path d="M371.2,361.5 Q375.8,359.6 380.3,361.4" fill="none" stroke="#a5672f" stroke-width="2.2" stroke-linecap="round"/>
<path d="M370.6,368.0 Q375.3,371.0 380.5,370.1" fill="none" stroke="#a5672f" stroke-width="2.2" stroke-linecap="round"/>
<path d="M365.2,372.9 Q368.0,378.3 366.7,384.0" fill="none" stroke="#a5672f" stroke-width="2.2" stroke-linecap="round"/>
<path d="M358.0,372.6 Q355.2,376.8 356.2,381.6" fill="none" stroke="#a5672f" stroke-width="2.2" stroke-linecap="round"/>
<path d="M353.1,367.2 Q348.2,369.8 343.0,368.4" fill="none" stroke="#a5672f" stroke-width="2.2" stroke-linecap="round"/>
<path d="M353.1,360.8 Q348.6,358.4 344.0,359.8" fill="none" stroke="#a5672f" stroke-width="2.2" stroke-linecap="round"/>
<path d="M357.2,355.8 Q353.9,351.4 354.3,346.1" fill="none" stroke="#a5672f" stroke-width="2.2" stroke-linecap="round"/>
<circle cx="362" cy="364" r="10.5" fill="#c87a36" stroke="#a05a20" stroke-width="0.8" />
<g transform="translate(391.5,371) rotate(10) scale(0.85)" stroke="#9486c8" stroke-width="2.2" stroke-linecap="round" fill="none"><path d="M0,6 L0,0 L-4,-5 M0,0 L4,-5 M-2.5,-2 L-6,-6.5 M2.5,-2 L6,-6.5"/></g>
<g transform="translate(411.7,372.6) rotate(-30) scale(0.85)" stroke="#9486c8" stroke-width="2.2" stroke-linecap="round" fill="none"><path d="M0,6 L0,0 L-4,-5 M0,0 L4,-5 M-2.5,-2 L-6,-6.5 M2.5,-2 L6,-6.5"/></g>
<g transform="translate(388.4,385) rotate(40) scale(0.85)" stroke="#9486c8" stroke-width="2.2" stroke-linecap="round" fill="none"><path d="M0,6 L0,0 L-4,-5 M0,0 L4,-5 M-2.5,-2 L-6,-6.5 M2.5,-2 L6,-6.5"/></g>
<g transform="translate(402.4,383.4) rotate(-10) scale(0.85)" stroke="#9486c8" stroke-width="2.2" stroke-linecap="round" fill="none"><path d="M0,6 L0,0 L-4,-5 M0,0 L4,-5 M-2.5,-2 L-6,-6.5 M2.5,-2 L6,-6.5"/></g>
<g transform="translate(422.6,389.6) rotate(30) scale(0.85)" stroke="#9486c8" stroke-width="2.2" stroke-linecap="round" fill="none"><path d="M0,6 L0,0 L-4,-5 M0,0 L4,-5 M-2.5,-2 L-6,-6.5 M2.5,-2 L6,-6.5"/></g>
<line x1="387.0" y1="401.0" x2="389.3" y2="401.0" stroke="#dc7f3c" stroke-width="1.1" />
<circle cx="389.6" cy="401.0" r="1.0" fill="#dc7f3c" stroke="none" stroke-width="1" />
<line x1="386.4" y1="403.2" x2="388.3" y2="404.4" stroke="#dc7f3c" stroke-width="1.1" />
<circle cx="388.6" cy="404.6" r="1.0" fill="#dc7f3c" stroke="none" stroke-width="1" />
<line x1="384.7" y1="404.6" x2="385.6" y2="406.7" stroke="#dc7f3c" stroke-width="1.1" />
<circle cx="385.7" cy="407.0" r="1.0" fill="#dc7f3c" stroke="none" stroke-width="1" />
<line x1="382.4" y1="405.0" x2="382.1" y2="407.2" stroke="#dc7f3c" stroke-width="1.1" />
<circle cx="382.1" cy="407.5" r="1.0" fill="#dc7f3c" stroke="none" stroke-width="1" />
<line x1="380.4" y1="404.0" x2="378.9" y2="405.8" stroke="#dc7f3c" stroke-width="1.1" />
<circle cx="378.7" cy="406.0" r="1.0" fill="#dc7f3c" stroke="none" stroke-width="1" />
<line x1="379.2" y1="402.1" x2="377.0" y2="402.8" stroke="#dc7f3c" stroke-width="1.1" />
<circle cx="376.7" cy="402.9" r="1.0" fill="#dc7f3c" stroke="none" stroke-width="1" />
<line x1="379.2" y1="399.9" x2="377.0" y2="399.2" stroke="#dc7f3c" stroke-width="1.1" />
<circle cx="376.7" cy="399.1" r="1.0" fill="#dc7f3c" stroke="none" stroke-width="1" />
<line x1="380.4" y1="398.0" x2="378.9" y2="396.2" stroke="#dc7f3c" stroke-width="1.1" />
<circle cx="378.7" cy="396.0" r="1.0" fill="#dc7f3c" stroke="none" stroke-width="1" />
<line x1="382.4" y1="397.0" x2="382.1" y2="394.8" stroke="#dc7f3c" stroke-width="1.1" />
<circle cx="382.1" cy="394.5" r="1.0" fill="#dc7f3c" stroke="none" stroke-width="1" />
<line x1="384.7" y1="397.4" x2="385.6" y2="395.3" stroke="#dc7f3c" stroke-width="1.1" />
<circle cx="385.7" cy="395.0" r="1.0" fill="#dc7f3c" stroke="none" stroke-width="1" />
<line x1="386.4" y1="398.8" x2="388.3" y2="397.6" stroke="#dc7f3c" stroke-width="1.1" />
<circle cx="388.6" cy="397.4" r="1.0" fill="#dc7f3c" stroke="none" stroke-width="1" />
<circle cx="383" cy="401" r="4" fill="#dc7f3c" stroke="none" stroke-width="1" />
<circle cx="383" cy="401" r="2.4" fill="#d06f30" stroke="none" stroke-width="1" />
<line x1="409.0" y1="406.0" x2="411.3" y2="406.0" stroke="#dc7f3c" stroke-width="1.1" />
<circle cx="411.6" cy="406.0" r="1.0" fill="#dc7f3c" stroke="none" stroke-width="1" />
<line x1="408.4" y1="408.2" x2="410.3" y2="409.4" stroke="#dc7f3c" stroke-width="1.1" />
<circle cx="410.6" cy="409.6" r="1.0" fill="#dc7f3c" stroke="none" stroke-width="1" />
<line x1="406.7" y1="409.6" x2="407.6" y2="411.7" stroke="#dc7f3c" stroke-width="1.1" />
<circle cx="407.7" cy="412.0" r="1.0" fill="#dc7f3c" stroke="none" stroke-width="1" />
<line x1="404.4" y1="410.0" x2="404.1" y2="412.2" stroke="#dc7f3c" stroke-width="1.1" />
<circle cx="404.1" cy="412.5" r="1.0" fill="#dc7f3c" stroke="none" stroke-width="1" />
<line x1="402.4" y1="409.0" x2="400.9" y2="410.8" stroke="#dc7f3c" stroke-width="1.1" />
<circle cx="400.7" cy="411.0" r="1.0" fill="#dc7f3c" stroke="none" stroke-width="1" />
<line x1="401.2" y1="407.1" x2="399.0" y2="407.8" stroke="#dc7f3c" stroke-width="1.1" />
<circle cx="398.7" cy="407.9" r="1.0" fill="#dc7f3c" stroke="none" stroke-width="1" />
<line x1="401.2" y1="404.9" x2="399.0" y2="404.2" stroke="#dc7f3c" stroke-width="1.1" />
<circle cx="398.7" cy="404.1" r="1.0" fill="#dc7f3c" stroke="none" stroke-width="1" />
<line x1="402.4" y1="403.0" x2="400.9" y2="401.2" stroke="#dc7f3c" stroke-width="1.1" />
<circle cx="400.7" cy="401.0" r="1.0" fill="#dc7f3c" stroke="none" stroke-width="1" />
<line x1="404.4" y1="402.0" x2="404.1" y2="399.8" stroke="#dc7f3c" stroke-width="1.1" />
<circle cx="404.1" cy="399.5" r="1.0" fill="#dc7f3c" stroke="none" stroke-width="1" />
<line x1="406.7" y1="402.4" x2="407.6" y2="400.3" stroke="#dc7f3c" stroke-width="1.1" />
<circle cx="407.7" cy="400.0" r="1.0" fill="#dc7f3c" stroke="none" stroke-width="1" />
<line x1="408.4" y1="403.8" x2="410.3" y2="402.6" stroke="#dc7f3c" stroke-width="1.1" />
<circle cx="410.6" cy="402.4" r="1.0" fill="#dc7f3c" stroke="none" stroke-width="1" />
<circle cx="405" cy="406" r="4" fill="#dc7f3c" stroke="none" stroke-width="1" />
<circle cx="405" cy="406" r="2.4" fill="#d06f30" stroke="none" stroke-width="1" />
<rect x="389" y="260" width="118" height="44" rx="7" fill="#e3e6f5" stroke="#7f8aa0" stroke-width="1" />
<path d="M408.5,273.6 Q407.0,268.8 409.0,264.5" fill="none" stroke="#a5672f" stroke-width="2.2" stroke-linecap="round"/>
<path d="M414.2,274.6 Q417.6,270.2 417.3,265.0" fill="none" stroke="#a5672f" stroke-width="2.2" stroke-linecap="round"/>
<path d="M418.0,279.1 Q422.0,276.9 426.1,278.3" fill="none" stroke="#a5672f" stroke-width="2.2" stroke-linecap="round"/>
<path d="M414.2,289.4 Q417.3,293.3 416.9,298.1" fill="none" stroke="#a5672f" stroke-width="2.2" stroke-linecap="round"/>
<path d="M408.5,290.4 Q406.9,295.6 409.0,300.5" fill="none" stroke="#a5672f" stroke-width="2.2" stroke-linecap="round"/>
<path d="M403.5,287.5 Q400.1,291.2 395.3,291.6" fill="none" stroke="#a5672f" stroke-width="2.2" stroke-linecap="round"/>
<path d="M401.5,282.0 Q396.5,281.3 392.6,284.1" fill="none" stroke="#a5672f" stroke-width="2.2" stroke-linecap="round"/>
<path d="M403.5,276.5 Q398.8,273.5 397.4,268.5" fill="none" stroke="#a5672f" stroke-width="2.2" stroke-linecap="round"/>
<path d="M407.8,273.8 Q407.3,269.3 403.9,266.7" fill="none" stroke="#a5672f" stroke-width="2.2" stroke-linecap="round"/>
<circle cx="410" cy="282" r="9.5" fill="#c87a36" stroke="#a05a20" stroke-width="0.8" />
<circle cx="491" cy="281" r="16" fill="#e2e2e2" stroke="#c8c8c8" stroke-width="1" />
<path d="M441.0,278.0 C441.7,275.3 443.2,271.7 446.0,270.0 C448.8,268.3 454.0,267.7 458.0,268.0 C462.0,268.3 466.3,271.3 470.0,272.0 C473.7,272.7 478.0,270.0 480.0,272.0 C482.0,274.0 482.3,280.7 482.0,284.0 C481.7,287.3 481.3,290.8 478.0,292.0 C474.7,293.2 466.7,291.3 462.0,291.0 C457.3,290.7 453.3,290.8 450.0,290.0 C446.7,289.2 443.5,288.0 442.0,286.0 C440.5,284.0 440.3,280.7 441.0,278.0Z" fill="#e52a2c" stroke="none" stroke-width="1" />
<circle cx="451" cy="279" r="10" fill="#d21f23" stroke="none" stroke-width="1" />
<circle cx="470" cy="276" r="1.5" fill="#9c1418" stroke="none" stroke-width="1" />
<circle cx="476" cy="282" r="1.5" fill="#9c1418" stroke="none" stroke-width="1" />
<circle cx="472" cy="289" r="1.5" fill="#9c1418" stroke="none" stroke-width="1" />
<circle cx="480" cy="279" r="1.5" fill="#9c1418" stroke="none" stroke-width="1" />
<line x1="423" y1="282" x2="432.0" y2="282.0" stroke="#111" stroke-width="2" />
<polygon points="438.0,282.0 432.0,286.0 432.0,278.0" fill="#111"/>
<line x1="407" y1="295" x2="407.0" y2="307.0" stroke="#111" stroke-width="1.6" />
<polygon points="407.0,313.0 403.0,307.0 411.0,307.0" fill="#111"/>
<rect x="388" y="314" width="118" height="52" rx="7" fill="#e3e6f5" stroke="#7f8aa0" stroke-width="1" />
<circle cx="412" cy="336" r="18" fill="#e52a2c" stroke="#c21f22" stroke-width="1" />
<circle cx="414.16" cy="339.6" r="12.959999999999999" fill="#d21f23" stroke="none" stroke-width="1" />
<circle cx="472" cy="336.5" r="20.5" fill="#d9b4e6" stroke="#b58ac8" stroke-width="1" />
<circle cx="475" cy="335" r="13" fill="#c79bd8" stroke="none" stroke-width="1" />
<rect x="428" y="325" width="30" height="4" rx="2" fill="#8f80c6" stroke="none" stroke-width="1" />
<rect x="428" y="338" width="24" height="4" rx="1" fill="#c05060" stroke="none" stroke-width="1" />
<rect x="428" y="344" width="24" height="3" rx="1" fill="#e090a0" stroke="none" stroke-width="1" />
<g transform="translate(494,320) rotate(60) scale(0.9)" stroke="#8f80c6" stroke-width="2.2" stroke-linecap="round" fill="none"><path d="M0,6 L0,0 L-4,-5 M0,0 L4,-5 M-2.5,-2 L-6,-6.5 M2.5,-2 L6,-6.5"/></g>
<g transform="translate(496,350) rotate(120) scale(0.9)" stroke="#8f80c6" stroke-width="2.2" stroke-linecap="round" fill="none"><path d="M0,6 L0,0 L-4,-5 M0,0 L4,-5 M-2.5,-2 L-6,-6.5 M2.5,-2 L6,-6.5"/></g>
<text x="346.5" y="182.5" font-size="10.5" fill="#333" font-weight="normal" text-anchor="middle" >Monocytes</text>
<text x="425" y="183" font-size="10.5" fill="#333" font-weight="normal" text-anchor="middle" >Macrophages</text>
<text x="493" y="188" font-size="10.5" fill="#333" font-weight="normal" text-anchor="middle" >Neutrophils</text>
<text x="283" y="189" font-size="10.5" fill="#333" font-weight="normal" text-anchor="middle" >NK cells</text>
<text x="357" y="259.5" font-size="10.5" fill="#333" font-weight="normal" text-anchor="middle" >Dendritic cells</text>
<text x="281" y="251" font-size="9.5" fill="#3a3a3a" font-weight="normal" text-anchor="middle" >Granzymes</text>
<text x="281" y="261.3" font-size="9.5" fill="#3a3a3a" font-weight="normal" text-anchor="middle" >Perorins</text>
<text x="428" y="248.5" font-size="9" fill="#333" font-weight="normal" text-anchor="middle" >Type I IFN</text>
<text x="428" y="258.5" font-size="9" fill="#333" font-weight="normal" text-anchor="middle" >Type III IFN</text>
<text x="280" y="284" font-size="9.5" fill="#fff" font-weight="normal" text-anchor="middle" >Tn cell</text>
<text x="369" y="282" font-size="9" fill="#fff" font-weight="normal" text-anchor="middle" >Cytotoxic</text>
<text x="369" y="292" font-size="9" fill="#fff" font-weight="normal" text-anchor="middle" >T cell</text>
<text x="329" y="316" font-size="6" fill="#fff" font-weight="normal" text-anchor="middle" >Th1</text>
<text x="293" y="344" font-size="5.5" fill="#fff" font-weight="normal" text-anchor="middle" >Th17</text>
<text x="310" y="352" font-size="5.5" fill="#fff" font-weight="normal" text-anchor="middle" >Treg</text>
<text x="335" y="344" font-size="6" fill="#fff" font-weight="normal" text-anchor="middle" >Th2</text>
<text x="362" y="366" font-size="6" fill="#fff" font-weight="normal" text-anchor="middle" >APC</text>
<text x="410" y="284" font-size="6" fill="#fff" font-weight="normal" text-anchor="middle" >APC</text>
<text x="494" y="279" font-size="8" fill="#444" font-weight="normal" text-anchor="middle" >infected</text>
<text x="494" y="288" font-size="8" fill="#444" font-weight="normal" text-anchor="middle" >cell</text>
<text x="412" y="331" font-size="7.5" fill="#fff" font-weight="normal" text-anchor="middle" >CD4+ T</text>
<text x="412" y="340" font-size="7.5" fill="#fff" font-weight="normal" text-anchor="middle" >helper</text>
<text x="412" y="349" font-size="7.5" fill="#fff" font-weight="normal" text-anchor="middle" >cell</text>
<text x="475" y="342" font-size="9.5" fill="#5a4a6a" font-weight="normal" text-anchor="middle" >B cell</text>
<text x="453" y="376" font-size="7" fill="#fff" font-weight="normal" text-anchor="middle" >Memory</text>
<text x="453" y="385" font-size="7" fill="#fff" font-weight="normal" text-anchor="middle" >T cell</text>
<text x="316" y="374" font-size="8" fill="#333" font-weight="normal" text-anchor="middle" >T helper cells</text>
<path d="M521,393 C530,405 537,420 538,440" fill="none" stroke="#8a8a8a" stroke-width="0.9" />
<line x1="538" y1="436" x2="538.0" y2="441.0" stroke="#8a8a8a" stroke-width="0.9" />
<polygon points="538.0,445.0 535.5,441.0 540.5,441.0" fill="#8a8a8a"/>
<rect x="10" y="53" width="213" height="202" rx="0" fill="#fdf6ec" stroke="#2a2a2a" stroke-width="1.6" />
<clipPath id="lbc"><rect x="10.75" y="53.75" width="211.5" height="200.5"/></clipPath>
<g clip-path="url(#lbc)">
<path d="M11.0,159.0 C11.0,157.5 16.8,156.2 20.0,154.0 C23.2,151.8 28.7,149.7 30.0,146.0 C31.3,142.3 26.3,135.5 28.0,132.0 C29.7,128.5 34.7,125.8 40.0,125.0 C45.3,124.2 50.0,127.8 60.0,127.0 C70.0,126.2 85.0,121.5 100.0,120.0 C115.0,118.5 137.5,117.8 150.0,118.0 C162.5,118.2 169.0,119.0 175.0,121.0 C181.0,123.0 182.2,127.2 186.0,130.0 C189.8,132.8 194.5,135.7 198.0,138.0 C201.5,140.3 207.3,142.0 207.0,144.0 C206.7,146.0 199.5,148.0 196.0,150.0 C192.5,152.0 186.3,153.3 186.0,156.0 C185.7,158.7 189.8,162.7 194.0,166.0 C198.2,169.3 210.3,173.3 211.0,176.0 C211.7,178.7 202.2,180.3 198.0,182.0 C193.8,183.7 187.3,183.7 186.0,186.0 C184.7,188.3 187.5,192.7 190.0,196.0 C192.5,199.3 201.3,204.0 201.0,206.0 C200.7,208.0 192.2,208.3 188.0,208.0 C183.8,207.7 179.3,203.0 176.0,204.0 C172.7,205.0 169.8,210.5 168.0,214.0 C166.2,217.5 167.3,223.7 165.0,225.0 C162.7,226.3 157.3,223.5 154.0,222.0 C150.7,220.5 147.3,215.3 145.0,216.0 C142.7,216.7 141.3,222.8 140.0,226.0 C138.7,229.2 139.0,235.0 137.0,235.0 C135.0,235.0 131.2,228.2 128.0,226.0 C124.8,223.8 121.3,221.7 118.0,222.0 C114.7,222.3 110.7,225.2 108.0,228.0 C105.3,230.8 104.0,239.0 102.0,239.0 C100.0,239.0 98.7,230.5 96.0,228.0 C93.3,225.5 89.3,225.0 86.0,224.0 C82.7,223.0 78.7,221.2 76.0,222.0 C73.3,222.8 72.0,229.7 70.0,229.0 C68.0,228.3 66.3,220.8 64.0,218.0 C61.7,215.2 59.0,213.0 56.0,212.0 C53.0,211.0 49.7,212.7 46.0,212.0 C42.3,211.3 35.0,210.3 34.0,208.0 C33.0,205.7 39.0,201.7 40.0,198.0 C41.0,194.3 40.3,190.7 40.0,186.0 C39.7,181.3 39.3,173.8 38.0,170.0 C36.7,166.2 35.0,164.2 32.0,163.0 C29.0,161.8 23.5,163.7 20.0,163.0 C16.5,162.3 11.0,160.5 11.0,159.0Z" fill="#f6c9af" stroke="#ecb596" stroke-width="1" />
<ellipse cx="135.4" cy="162.7" rx="35.8" ry="35" fill="#e7b198" stroke="none" stroke-width="1" />
</g>
<rect x="42" y="73" width="69" height="46" rx="8" fill="#ebcecc" stroke="#6d4b49" stroke-width="1.3" />
<rect x="112" y="74" width="108" height="48" rx="8" fill="#ebcecc" stroke="#6d4b49" stroke-width="1.3" />
<text x="76.5" y="94" font-size="10" fill="#3b2b2b" font-weight="normal" text-anchor="middle" >Type I IFN</text>
<text x="76.5" y="106" font-size="10" fill="#3b2b2b" font-weight="normal" text-anchor="middle" >Type III IFN</text>
<text x="165.5" y="90" font-size="9.7" fill="#3b2b2b" font-weight="normal" text-anchor="middle" >Proinflammatory</text>
<text x="165.5" y="101.5" font-size="9.7" fill="#3b2b2b" font-weight="normal" text-anchor="middle" >cytokines (TNF-α,</text>
<text x="165.5" y="113" font-size="9.7" fill="#3b2b2b" font-weight="normal" text-anchor="middle" >IL-1, IL-6, IL-18)</text>
<text x="19" y="142" font-size="13" fill="#222" font-weight="normal" text-anchor="start" >ssRNA</text>
<text x="28" y="190" font-size="12" fill="#222" font-weight="normal" text-anchor="start" >TLR-4 7</text>
<text x="139" y="190" font-size="7.5" fill="#444" font-weight="normal" text-anchor="middle" >Nucleus</text>
<ellipse cx="69" cy="138" rx="10" ry="9" fill="#f7f2f4" stroke="#d993b1" stroke-width="1.6" />
<ellipse cx="58" cy="159" rx="9" ry="10" fill="#f7f2f4" stroke="#d993b1" stroke-width="1.6" />
<path d="M62,134 q3,4 6,1 q3,-3 6,2 q2,3 4,2" fill="none" stroke="#7fbfd8" stroke-width="1" />
<path d="M54,153 q3,3 2,7 q-1,4 3,5" fill="none" stroke="#7fbfd8" stroke-width="1" />
<path d="M72,138 q3,2 1,5 M62,160 q3,3 0,6" fill="none" stroke="#b58ad0" stroke-width="1" />
<rect x="80" y="131" width="37" height="13" rx="6.5" fill="#fff" stroke="#222" stroke-width="1.2" />
<text x="98.5" y="140.8" font-size="7.5" fill="#333" font-weight="normal" text-anchor="middle" >MYD88</text>
<rect x="64" y="167" width="35" height="13" rx="6.5" fill="#fff" stroke="#222" stroke-width="1.2" />
<text x="81.5" y="176.8" font-size="7.5" fill="#333" font-weight="normal" text-anchor="middle" >MYD88</text>
<rect x="96" y="147" width="21" height="10" rx="5" fill="#5a3a2e" stroke="none" stroke-width="1" />
<text x="106.5" y="154.5" font-size="5.5" fill="#e8d8d0" font-weight="normal" text-anchor="middle" >IRF-7</text>
<rect x="100" y="165.5" width="23" height="8.5" rx="4.5" fill="#5a3a2e" stroke="none" stroke-width="1" />
<text x="111.5" y="172" font-size="5.5" fill="#e8d8d0" font-weight="normal" text-anchor="middle" >NF-κB</text>
<line x1="132.6" y1="148.1" x2="132.6" y2="148.7" stroke="#8ccfe6" stroke-width="0.7" />
<line x1="134.2" y1="149.7" x2="134.2" y2="146.8" stroke="#8ccfe6" stroke-width="0.7" />
<line x1="135.9" y1="150.1" x2="135.9" y2="145.3" stroke="#8ccfe6" stroke-width="0.7" />
<line x1="137.6" y1="149.0" x2="137.6" y2="145.0" stroke="#8ccfe6" stroke-width="0.7" />
<line x1="139.3" y1="147.2" x2="139.3" y2="146.0" stroke="#8ccfe6" stroke-width="0.7" />
<line x1="141.0" y1="145.5" x2="141.0" y2="147.9" stroke="#8ccfe6" stroke-width="0.7" />
<line x1="142.6" y1="144.9" x2="142.6" y2="149.5" stroke="#8ccfe6" stroke-width="0.7" />
<line x1="144.3" y1="145.7" x2="144.3" y2="150.1" stroke="#8ccfe6" stroke-width="0.7" />
<line x1="146.0" y1="147.5" x2="146.0" y2="149.3" stroke="#8ccfe6" stroke-width="0.7" />
<line x1="147.7" y1="149.3" x2="147.7" y2="147.5" stroke="#8ccfe6" stroke-width="0.7" />
<line x1="149.4" y1="150.1" x2="149.4" y2="145.7" stroke="#8ccfe6" stroke-width="0.7" />
<line x1="151.0" y1="149.5" x2="151.0" y2="144.9" stroke="#8ccfe6" stroke-width="0.7" />
<line x1="152.7" y1="147.8" x2="152.7" y2="145.5" stroke="#8ccfe6" stroke-width="0.7" />
<line x1="154.4" y1="146.0" x2="154.4" y2="147.2" stroke="#8ccfe6" stroke-width="0.7" />
<line x1="156.1" y1="144.9" x2="156.1" y2="149.1" stroke="#8ccfe6" stroke-width="0.7" />
<line x1="157.8" y1="145.3" x2="157.8" y2="150.1" stroke="#8ccfe6" stroke-width="0.7" />
<line x1="159.4" y1="146.9" x2="159.4" y2="149.7" stroke="#8ccfe6" stroke-width="0.7" />
<path d="M132.0,149.3 L132.6,148.7 L133.1,148.1 L133.7,147.5 L134.2,146.8 L134.8,146.2 L135.4,145.7 L135.9,145.3 L136.5,145.0 L137.0,144.9 L137.6,145.0 L138.2,145.2 L138.7,145.5 L139.3,146.0 L139.8,146.6 L140.4,147.2 L141.0,147.9 L141.5,148.5 L142.1,149.1 L142.6,149.5 L143.2,149.9 L143.8,150.1 L144.3,150.1 L144.9,150.0 L145.4,149.7 L146.0,149.3 L146.6,148.7 L147.1,148.1 L147.7,147.5 L148.2,146.8 L148.8,146.2 L149.4,145.7 L149.9,145.3 L150.5,145.0 L151.0,144.9 L151.6,145.0 L152.2,145.2 L152.7,145.5 L153.3,146.0 L153.8,146.6 L154.4,147.2 L155.0,147.9 L155.5,148.5 L156.1,149.1 L156.6,149.5 L157.2,149.9 L157.8,150.1 L158.3,150.1 L158.9,150.0 L159.4,149.7 L160.0,149.3" fill="none" stroke="#4fb3da" stroke-width="1.5" />
<path d="M132.0,147.5 L132.6,148.1 L133.1,148.8 L133.7,149.3 L134.2,149.7 L134.8,150.0 L135.4,150.1 L135.9,150.1 L136.5,149.9 L137.0,149.5 L137.6,149.0 L138.2,148.5 L138.7,147.8 L139.3,147.2 L139.8,146.5 L140.4,146.0 L141.0,145.5 L141.5,145.1 L142.1,144.9 L142.6,144.9 L143.2,145.0 L143.8,145.3 L144.3,145.7 L144.9,146.2 L145.4,146.9 L146.0,147.5 L146.6,148.1 L147.1,148.8 L147.7,149.3 L148.2,149.7 L148.8,150.0 L149.4,150.1 L149.9,150.1 L150.5,149.9 L151.0,149.5 L151.6,149.0 L152.2,148.5 L152.7,147.8 L153.3,147.2 L153.8,146.5 L154.4,146.0 L155.0,145.5 L155.5,145.1 L156.1,144.9 L156.6,144.9 L157.2,145.0 L157.8,145.3 L158.3,145.7 L158.9,146.2 L159.4,146.9 L160.0,147.5" fill="none" stroke="#3a9dcc" stroke-width="1.5" />
<line x1="134.6" y1="171.1" x2="134.6" y2="171.7" stroke="#8ccfe6" stroke-width="0.7" />
<line x1="136.6" y1="172.7" x2="136.6" y2="169.8" stroke="#8ccfe6" stroke-width="0.7" />
<line x1="138.5" y1="173.1" x2="138.5" y2="168.3" stroke="#8ccfe6" stroke-width="0.7" />
<line x1="140.4" y1="172.0" x2="140.4" y2="168.0" stroke="#8ccfe6" stroke-width="0.7" />
<line x1="142.3" y1="170.2" x2="142.3" y2="169.0" stroke="#8ccfe6" stroke-width="0.7" />
<line x1="144.2" y1="168.5" x2="144.2" y2="170.9" stroke="#8ccfe6" stroke-width="0.7" />
<line x1="146.2" y1="167.9" x2="146.2" y2="172.5" stroke="#8ccfe6" stroke-width="0.7" />
<line x1="148.1" y1="168.7" x2="148.1" y2="173.1" stroke="#8ccfe6" stroke-width="0.7" />
<line x1="150.0" y1="170.5" x2="150.0" y2="172.3" stroke="#8ccfe6" stroke-width="0.7" />
<line x1="151.9" y1="172.3" x2="151.9" y2="170.5" stroke="#8ccfe6" stroke-width="0.7" />
<line x1="153.8" y1="173.1" x2="153.8" y2="168.7" stroke="#8ccfe6" stroke-width="0.7" />
<line x1="155.8" y1="172.5" x2="155.8" y2="167.9" stroke="#8ccfe6" stroke-width="0.7" />
<line x1="157.7" y1="170.8" x2="157.7" y2="168.5" stroke="#8ccfe6" stroke-width="0.7" />
<line x1="159.6" y1="169.0" x2="159.6" y2="170.2" stroke="#8ccfe6" stroke-width="0.7" />
<line x1="161.5" y1="167.9" x2="161.5" y2="172.1" stroke="#8ccfe6" stroke-width="0.7" />
<line x1="163.4" y1="168.3" x2="163.4" y2="173.1" stroke="#8ccfe6" stroke-width="0.7" />
<line x1="165.4" y1="169.9" x2="165.4" y2="172.7" stroke="#8ccfe6" stroke-width="0.7" />
<path d="M134.0,172.3 L134.6,171.7 L135.3,171.1 L135.9,170.5 L136.6,169.8 L137.2,169.2 L137.8,168.7 L138.5,168.3 L139.1,168.0 L139.8,167.9 L140.4,168.0 L141.0,168.2 L141.7,168.5 L142.3,169.0 L143.0,169.6 L143.6,170.2 L144.2,170.9 L144.9,171.5 L145.5,172.1 L146.2,172.5 L146.8,172.9 L147.4,173.1 L148.1,173.1 L148.7,173.0 L149.4,172.7 L150.0,172.3 L150.6,171.7 L151.3,171.1 L151.9,170.5 L152.6,169.8 L153.2,169.2 L153.8,168.7 L154.5,168.3 L155.1,168.0 L155.8,167.9 L156.4,168.0 L157.0,168.2 L157.7,168.5 L158.3,169.0 L159.0,169.6 L159.6,170.2 L160.2,170.9 L160.9,171.5 L161.5,172.1 L162.2,172.5 L162.8,172.9 L163.4,173.1 L164.1,173.1 L164.7,173.0 L165.4,172.7 L166.0,172.3" fill="none" stroke="#4fb3da" stroke-width="1.5" />
<path d="M134.0,170.5 L134.6,171.1 L135.3,171.8 L135.9,172.3 L136.6,172.7 L137.2,173.0 L137.8,173.1 L138.5,173.1 L139.1,172.9 L139.8,172.5 L140.4,172.0 L141.0,171.5 L141.7,170.8 L142.3,170.2 L143.0,169.5 L143.6,169.0 L144.2,168.5 L144.9,168.1 L145.5,167.9 L146.2,167.9 L146.8,168.0 L147.4,168.3 L148.1,168.7 L148.7,169.2 L149.4,169.9 L150.0,170.5 L150.6,171.1 L151.3,171.8 L151.9,172.3 L152.6,172.7 L153.2,173.0 L153.8,173.1 L154.5,173.1 L155.1,172.9 L155.8,172.5 L156.4,172.0 L157.0,171.5 L157.7,170.8 L158.3,170.2 L159.0,169.5 L159.6,169.0 L160.2,168.5 L160.9,168.1 L161.5,167.9 L162.2,167.9 L162.8,168.0 L163.4,168.3 L164.1,168.7 L164.7,169.2 L165.4,169.9 L166.0,170.5" fill="none" stroke="#3a9dcc" stroke-width="1.5" />
<line x1="86" y1="145" x2="91.8425911304947" y2="149.54423754594032" stroke="#222" stroke-width="0.9" />
<polygon points="95.0,152.0 90.4,151.4 93.3,147.6" fill="#222"/>
<line x1="118" y1="152" x2="125.24082630604624" y2="149.3669722523468" stroke="#222" stroke-width="0.9" />
<polygon points="129.0,148.0 126.1,151.6 124.4,147.1" fill="#222"/>
<line x1="124" y1="170" x2="127.04020202535533" y2="170.43431457505076" stroke="#222" stroke-width="0.9" />
<polygon points="131.0,171.0 126.7,172.8 127.4,168.1" fill="#222"/>
<line x1="138" y1="141" x2="120.53553390593274" y2="123.53553390593274" stroke="#333" stroke-width="0.9" />
<polygon points="117.0,120.0 122.5,121.6 118.6,125.5" fill="#333"/>
<line x1="146" y1="168" x2="167.42752122286237" y2="132.28746462856273" stroke="#333" stroke-width="0.9" />
<polygon points="170.0,128.0 169.8,133.7 165.0,130.8" fill="#333"/>
<line x1="69.5" y1="193" x2="69.5" y2="249" stroke="#7cc47c" stroke-width="1.3" />
<line x1="65" y1="193" x2="74" y2="193" stroke="#7cc47c" stroke-width="1.3" />
<rect x="571" y="54" width="207" height="202" rx="0" fill="#fdf9ee" stroke="#2a2a2a" stroke-width="1.6" />
<path d="M774.6,167.2 C773.4,169.6 771.8,171.7 771.2,174.1 C770.5,176.6 771.1,179.4 770.7,182.0 C770.2,184.5 769.8,187.3 768.4,189.5 C766.9,191.6 764.0,193.2 761.9,195.0 C759.8,196.8 757.4,198.2 755.8,200.3 C754.2,202.4 753.6,205.2 752.1,207.5 C750.7,209.7 749.2,212.2 746.9,213.7 C744.7,215.3 741.3,215.8 738.6,216.8 C735.9,217.8 733.1,218.4 730.7,219.9 C728.4,221.3 726.7,223.8 724.4,225.4 C722.1,227.0 719.7,228.8 717.0,229.5 C714.2,230.3 710.9,229.7 708.0,229.8 C705.0,229.9 702.2,229.5 699.4,230.1 C696.6,230.7 694.0,232.4 691.2,233.2 C688.4,234.0 685.4,234.9 682.6,234.7 C679.7,234.5 676.8,232.9 674.1,232.1 C671.3,231.2 668.8,230.0 665.9,229.7 C663.1,229.3 660.0,230.1 657.0,230.0 C654.1,229.8 650.9,229.7 648.3,228.6 C645.8,227.5 643.8,225.1 641.5,223.4 C639.3,221.8 637.4,219.8 634.9,218.6 C632.4,217.4 629.2,217.1 626.5,216.0 C623.9,214.9 620.9,213.9 619.0,212.0 C617.0,210.2 616.1,207.3 614.7,205.0 C613.3,202.7 612.4,200.3 610.5,198.4 C608.7,196.4 605.8,195.2 603.7,193.3 C601.7,191.5 599.4,189.5 598.3,187.2 C597.3,184.8 597.6,181.9 597.3,179.3 C596.9,176.7 597.0,174.2 596.1,171.8 C595.2,169.4 592.9,167.3 591.8,164.9 C590.7,162.5 589.4,160.0 589.3,157.5 C589.3,154.9 590.8,152.3 591.5,149.8 C592.2,147.2 593.4,144.9 593.5,142.4 C593.6,139.9 592.4,137.2 592.3,134.6 C592.3,132.0 592.1,129.2 593.1,126.9 C594.0,124.5 596.6,122.5 598.3,120.4 C600.0,118.3 602.0,116.4 603.1,114.1 C604.3,111.8 604.3,109.0 605.2,106.5 C606.2,104.1 607.2,101.4 609.1,99.5 C611.0,97.6 614.2,96.6 616.6,95.2 C619.1,93.7 621.7,92.7 623.7,90.9 C625.7,89.1 626.9,86.4 628.8,84.4 C630.7,82.5 632.7,80.3 635.2,79.1 C637.8,78.0 641.2,78.0 644.0,77.5 C646.9,76.9 649.8,76.8 652.4,75.7 C655.0,74.7 657.2,72.6 659.8,71.4 C662.4,70.1 665.1,68.7 668.0,68.5 C670.8,68.2 674.0,69.3 676.9,69.7 C679.8,70.1 682.5,70.9 685.4,70.8 C688.2,70.6 691.1,69.3 694.0,69.0 C697.0,68.7 700.1,68.3 702.9,68.9 C705.6,69.6 708.1,71.6 710.7,72.9 C713.2,74.2 715.5,75.8 718.2,76.6 C720.9,77.4 724.1,77.1 727.0,77.8 C729.8,78.4 732.9,79.0 735.2,80.5 C737.5,82.0 739.0,84.7 740.8,86.7 C742.7,88.7 744.1,90.9 746.3,92.5 C748.5,94.1 751.7,94.9 754.1,96.4 C756.5,97.9 759.1,99.4 760.7,101.6 C762.2,103.7 762.5,106.7 763.4,109.1 C764.3,111.6 764.7,114.1 766.1,116.3 C767.5,118.5 770.1,120.2 771.7,122.4 C773.3,124.5 775.2,126.8 775.7,129.3 C776.3,131.8 775.3,134.7 775.2,137.2 C775.0,139.8 774.4,142.3 774.8,144.8 C775.1,147.3 776.9,149.7 777.5,152.3 C778.1,154.8 778.9,157.5 778.4,160.0 C777.9,162.5 775.8,164.8 774.6,167.2Z" fill="#d4e2ee" stroke="#5b9fcc" stroke-width="2.4" />
<circle cx="620" cy="120" r="4" fill="#e6eef5" stroke="none" stroke-width="1" />
<circle cx="750" cy="160" r="5" fill="#e6eef5" stroke="none" stroke-width="1" />
<circle cx="700" cy="215" r="5" fill="#e6eef5" stroke="none" stroke-width="1" />
<circle cx="650" cy="220" r="3" fill="#e6eef5" stroke="none" stroke-width="1" />
<circle cx="760" cy="110" r="3" fill="#e6eef5" stroke="none" stroke-width="1" />
<circle cx="727" cy="200" r="3" fill="#e6eef5" stroke="none" stroke-width="1" />
<ellipse cx="701" cy="166" rx="43" ry="31.5" fill="#a9bed3" stroke="#8aa6c2" stroke-width="1" />
<rect x="597" y="78" width="71" height="53" rx="9" fill="#c3cfea" stroke="#4d5a78" stroke-width="1.2" />
<rect x="668" y="76" width="96" height="58" rx="9" fill="#c3cfea" stroke="#4d5a78" stroke-width="1.2" />
<text x="632.5" y="102" font-size="10" fill="#2b2b3b" font-weight="normal" text-anchor="middle" >Type I IFN</text>
<text x="632.5" y="114" font-size="10" fill="#2b2b3b" font-weight="normal" text-anchor="middle" >Type III IFN</text>
<text x="716" y="96.5" font-size="10" fill="#2b2b3b" font-weight="normal" text-anchor="middle" >Proinflammatory</text>
<text x="716" y="107.5" font-size="10" fill="#2b2b3b" font-weight="normal" text-anchor="middle" >cytokines (TNF-α,</text>
<text x="716" y="118.5" font-size="10" fill="#2b2b3b" font-weight="normal" text-anchor="middle" >IL-1, IL-6, IL-18)</text>
<circle cx="612" cy="158" r="12" fill="#f6f6f6" stroke="#a5cf90" stroke-width="2" />
<path d="M603,160 q4,-4 8,0 q4,4 8,0" fill="none" stroke="#5a9ed0" stroke-width="1.2" />
<circle cx="610" cy="154" r="2" fill="#d05050" stroke="none" stroke-width="1" />
<circle cx="615" cy="156" r="1.5" fill="#5060c0" stroke="none" stroke-width="1" />
<text x="593" y="147" font-size="11.5" fill="#222" font-weight="normal" text-anchor="start" >dsRNA</text>
<text x="612" y="181" font-size="11.5" fill="#222" font-weight="normal" text-anchor="start" >TLR-3</text>
<rect x="636" y="157" width="36" height="17" rx="8.5" fill="#2e7b6b" stroke="none" stroke-width="1" />
<text x="654" y="169.5" font-size="11" fill="#e8f4f0" font-weight="normal" text-anchor="middle" >IRF-3</text>
<rect x="632" y="187" width="45" height="17" rx="8.5" fill="#2e7b6b" stroke="none" stroke-width="1" />
<text x="654.5" y="199.5" font-size="11" fill="#e8f4f0" font-weight="normal" text-anchor="middle" >NF-κB</text>
<text x="704" y="195.5" font-size="11" fill="#1a1a1a" font-weight="start" text-anchor="middle" >Nucleus</text>
<line x1="682.8" y1="155.0" x2="682.8" y2="155.3" stroke="#8ccfe6" stroke-width="0.7" />
<line x1="685.0" y1="157.0" x2="685.0" y2="152.4" stroke="#8ccfe6" stroke-width="0.7" />
<line x1="687.3" y1="156.6" x2="687.3" y2="150.8" stroke="#8ccfe6" stroke-width="0.7" />
<line x1="689.6" y1="154.0" x2="689.6" y2="151.8" stroke="#8ccfe6" stroke-width="0.7" />
<line x1="691.9" y1="151.4" x2="691.9" y2="154.6" stroke="#8ccfe6" stroke-width="0.7" />
<line x1="694.2" y1="151.0" x2="694.2" y2="156.9" stroke="#8ccfe6" stroke-width="0.7" />
<line x1="696.4" y1="153.0" x2="696.4" y2="156.8" stroke="#8ccfe6" stroke-width="0.7" />
<line x1="698.7" y1="155.9" x2="698.7" y2="154.4" stroke="#8ccfe6" stroke-width="0.7" />
<line x1="701.0" y1="157.2" x2="701.0" y2="151.6" stroke="#8ccfe6" stroke-width="0.7" />
<line x1="703.3" y1="155.9" x2="703.3" y2="150.9" stroke="#8ccfe6" stroke-width="0.7" />
<line x1="705.6" y1="153.0" x2="705.6" y2="152.7" stroke="#8ccfe6" stroke-width="0.7" />
<line x1="707.8" y1="151.0" x2="707.8" y2="155.6" stroke="#8ccfe6" stroke-width="0.7" />
<line x1="710.1" y1="151.4" x2="710.1" y2="157.2" stroke="#8ccfe6" stroke-width="0.7" />
<line x1="712.4" y1="154.0" x2="712.4" y2="156.2" stroke="#8ccfe6" stroke-width="0.7" />
<line x1="714.7" y1="156.6" x2="714.7" y2="153.4" stroke="#8ccfe6" stroke-width="0.7" />
<line x1="717.0" y1="157.0" x2="717.0" y2="151.1" stroke="#8ccfe6" stroke-width="0.7" />
<line x1="719.2" y1="155.0" x2="719.2" y2="151.2" stroke="#8ccfe6" stroke-width="0.7" />
<path d="M682.0,156.2 L682.8,155.3 L683.5,154.4 L684.3,153.4 L685.0,152.4 L685.8,151.6 L686.6,151.1 L687.3,150.8 L688.1,150.9 L688.8,151.2 L689.6,151.8 L690.4,152.7 L691.1,153.6 L691.9,154.6 L692.6,155.6 L693.4,156.4 L694.2,156.9 L694.9,157.2 L695.7,157.1 L696.4,156.8 L697.2,156.2 L698.0,155.3 L698.7,154.4 L699.5,153.4 L700.2,152.4 L701.0,151.6 L701.8,151.1 L702.5,150.8 L703.3,150.9 L704.0,151.2 L704.8,151.8 L705.6,152.7 L706.3,153.6 L707.1,154.6 L707.8,155.6 L708.6,156.4 L709.4,156.9 L710.1,157.2 L710.9,157.1 L711.6,156.8 L712.4,156.2 L713.2,155.3 L713.9,154.4 L714.7,153.4 L715.4,152.4 L716.2,151.6 L717.0,151.1 L717.7,150.8 L718.5,150.9 L719.2,151.2 L720.0,151.8" fill="none" stroke="#4fb3da" stroke-width="1.5" />
<path d="M682.0,154.0 L682.8,155.0 L683.5,155.9 L684.3,156.6 L685.0,157.0 L685.8,157.2 L686.6,157.0 L687.3,156.6 L688.1,155.9 L688.8,155.0 L689.6,154.0 L690.4,153.0 L691.1,152.1 L691.9,151.4 L692.6,151.0 L693.4,150.8 L694.2,151.0 L694.9,151.4 L695.7,152.1 L696.4,153.0 L697.2,154.0 L698.0,155.0 L698.7,155.9 L699.5,156.6 L700.2,157.0 L701.0,157.2 L701.8,157.0 L702.5,156.6 L703.3,155.9 L704.0,155.0 L704.8,154.0 L705.6,153.0 L706.3,152.1 L707.1,151.4 L707.8,151.0 L708.6,150.8 L709.4,151.0 L710.1,151.4 L710.9,152.1 L711.6,153.0 L712.4,154.0 L713.2,155.0 L713.9,155.9 L714.7,156.6 L715.4,157.0 L716.2,157.2 L717.0,157.0 L717.7,156.6 L718.5,155.9 L719.2,155.0 L720.0,154.0" fill="none" stroke="#3a9dcc" stroke-width="1.5" />
<line x1="686.8" y1="179.5" x2="686.8" y2="179.8" stroke="#8ccfe6" stroke-width="0.7" />
<line x1="689.0" y1="181.5" x2="689.0" y2="176.9" stroke="#8ccfe6" stroke-width="0.7" />
<line x1="691.2" y1="181.1" x2="691.2" y2="175.3" stroke="#8ccfe6" stroke-width="0.7" />
<line x1="693.5" y1="178.5" x2="693.5" y2="176.3" stroke="#8ccfe6" stroke-width="0.7" />
<line x1="695.8" y1="175.9" x2="695.8" y2="179.1" stroke="#8ccfe6" stroke-width="0.7" />
<line x1="698.0" y1="175.5" x2="698.0" y2="181.4" stroke="#8ccfe6" stroke-width="0.7" />
<line x1="700.2" y1="177.5" x2="700.2" y2="181.3" stroke="#8ccfe6" stroke-width="0.7" />
<line x1="702.5" y1="180.4" x2="702.5" y2="178.9" stroke="#8ccfe6" stroke-width="0.7" />
<line x1="704.8" y1="181.7" x2="704.8" y2="176.1" stroke="#8ccfe6" stroke-width="0.7" />
<line x1="707.0" y1="180.4" x2="707.0" y2="175.4" stroke="#8ccfe6" stroke-width="0.7" />
<line x1="709.2" y1="177.5" x2="709.2" y2="177.2" stroke="#8ccfe6" stroke-width="0.7" />
<line x1="711.5" y1="175.5" x2="711.5" y2="180.1" stroke="#8ccfe6" stroke-width="0.7" />
<line x1="713.8" y1="175.9" x2="713.8" y2="181.7" stroke="#8ccfe6" stroke-width="0.7" />
<line x1="716.0" y1="178.5" x2="716.0" y2="180.7" stroke="#8ccfe6" stroke-width="0.7" />
<line x1="718.2" y1="181.1" x2="718.2" y2="177.9" stroke="#8ccfe6" stroke-width="0.7" />
<line x1="720.5" y1="181.5" x2="720.5" y2="175.6" stroke="#8ccfe6" stroke-width="0.7" />
<line x1="722.8" y1="179.5" x2="722.8" y2="175.7" stroke="#8ccfe6" stroke-width="0.7" />
<path d="M686.0,180.7 L686.8,179.8 L687.5,178.9 L688.2,177.9 L689.0,176.9 L689.8,176.1 L690.5,175.6 L691.2,175.3 L692.0,175.4 L692.8,175.7 L693.5,176.3 L694.2,177.2 L695.0,178.1 L695.8,179.1 L696.5,180.1 L697.2,180.9 L698.0,181.4 L698.8,181.7 L699.5,181.6 L700.2,181.3 L701.0,180.7 L701.8,179.8 L702.5,178.9 L703.2,177.9 L704.0,176.9 L704.8,176.1 L705.5,175.6 L706.2,175.3 L707.0,175.4 L707.8,175.7 L708.5,176.3 L709.2,177.2 L710.0,178.1 L710.8,179.1 L711.5,180.1 L712.2,180.9 L713.0,181.4 L713.8,181.7 L714.5,181.6 L715.2,181.3 L716.0,180.7 L716.8,179.8 L717.5,178.9 L718.2,177.9 L719.0,176.9 L719.8,176.1 L720.5,175.6 L721.2,175.3 L722.0,175.4 L722.8,175.7 L723.5,176.3" fill="none" stroke="#4fb3da" stroke-width="1.5" />
<path d="M686.0,178.5 L686.8,179.5 L687.5,180.4 L688.2,181.1 L689.0,181.5 L689.8,181.7 L690.5,181.5 L691.2,181.1 L692.0,180.4 L692.8,179.5 L693.5,178.5 L694.2,177.5 L695.0,176.6 L695.8,175.9 L696.5,175.5 L697.2,175.3 L698.0,175.5 L698.8,175.9 L699.5,176.6 L700.2,177.5 L701.0,178.5 L701.8,179.5 L702.5,180.4 L703.2,181.1 L704.0,181.5 L704.8,181.7 L705.5,181.5 L706.2,181.1 L707.0,180.4 L707.8,179.5 L708.5,178.5 L709.2,177.5 L710.0,176.6 L710.8,175.9 L711.5,175.5 L712.2,175.3 L713.0,175.5 L713.8,175.9 L714.5,176.6 L715.2,177.5 L716.0,178.5 L716.8,179.5 L717.5,180.4 L718.2,181.1 L719.0,181.5 L719.8,181.7 L720.5,181.5 L721.2,181.1 L722.0,180.4 L722.8,179.5 L723.5,178.5" fill="none" stroke="#3a9dcc" stroke-width="1.5" />
<line x1="622" y1="148" x2="633.0776772972363" y2="150.21553545944727" stroke="#222" stroke-width="0.9" />
<polygon points="637.0,151.0 632.6,152.7 633.6,147.8" fill="#222"/>
<line x1="615" y1="180" x2="627.9896932211725" y2="191.36598156852594" stroke="#222" stroke-width="0.9" />
<polygon points="631.0,194.0 626.3,193.2 629.6,189.5" fill="#222"/>
<line x1="672" y1="162" x2="679.6253540490716" y2="157.14750196877264" stroke="#222" stroke-width="1" />
<polygon points="683.0,155.0 681.0,159.3 678.3,155.0" fill="#222"/>
<line x1="677" y1="195" x2="687.8547266447104" y2="186.47128620772762" stroke="#222" stroke-width="1" />
<polygon points="691.0,184.0 689.4,188.4 686.3,184.5" fill="#222"/>
<line x1="686" y1="149" x2="671.4131273346078" y2="140.0858000378159" stroke="#222" stroke-width="1" />
<polygon points="668.0,138.0 672.7,138.0 670.1,142.2" fill="#222"/>
<line x1="724" y1="177" x2="734.7954745282516" y2="142.81433066053657" stroke="#222" stroke-width="1" />
<polygon points="736.0,139.0 737.2,143.6 732.4,142.1" fill="#222"/>
<rect x="32" y="319" width="203" height="202" rx="0" fill="#e5e8f8" stroke="#2a2a2a" stroke-width="1.6" />
<line x1="86" y1="375" x2="90" y2="364" stroke="#e4b4a0" stroke-width="5" stroke-linecap="round"/>
<line x1="106" y1="392" x2="120" y2="386" stroke="#e4b4a0" stroke-width="5" stroke-linecap="round"/>
<line x1="100" y1="425" x2="124" y2="436" stroke="#e4b4a0" stroke-width="5" stroke-linecap="round"/>
<line x1="52" y1="420" x2="44" y2="430" stroke="#e4b4a0" stroke-width="5" stroke-linecap="round"/>
<line x1="60" y1="380" x2="50" y2="372" stroke="#e4b4a0" stroke-width="5" stroke-linecap="round"/>
<path d="M64.0,380.0 C63.0,377.7 60.0,370.0 58.0,366.0 C56.0,362.0 53.0,357.7 52.0,356.0" fill="none" stroke="#8a4a1c" stroke-width="6.2" stroke-linecap="round"/>
<path d="M64.0,380.0 C63.0,377.7 60.0,370.0 58.0,366.0 C56.0,362.0 53.0,357.7 52.0,356.0" fill="none" stroke="#c56f2c" stroke-width="4.2" stroke-linecap="round"/>
<path d="M79.0,375.0 C79.2,372.5 80.2,364.3 80.0,360.0 C79.8,355.7 78.3,350.8 78.0,349.0" fill="none" stroke="#8a4a1c" stroke-width="6.2" stroke-linecap="round"/>
<path d="M79.0,375.0 C79.2,372.5 80.2,364.3 80.0,360.0 C79.8,355.7 78.3,350.8 78.0,349.0" fill="none" stroke="#c56f2c" stroke-width="4.2" stroke-linecap="round"/>
<path d="M100.0,382.0 C101.3,380.0 105.7,373.2 108.0,370.0 C110.3,366.8 113.0,364.2 114.0,363.0" fill="none" stroke="#8a4a1c" stroke-width="6.2" stroke-linecap="round"/>
<path d="M100.0,382.0 C101.3,380.0 105.7,373.2 108.0,370.0 C110.3,366.8 113.0,364.2 114.0,363.0" fill="none" stroke="#c56f2c" stroke-width="4.2" stroke-linecap="round"/>
<path d="M52.0,400.0 C49.7,399.7 42.3,398.2 38.0,398.0 C33.7,397.8 28.0,398.8 26.0,399.0" fill="none" stroke="#8a4a1c" stroke-width="6.2" stroke-linecap="round"/>
<path d="M52.0,400.0 C49.7,399.7 42.3,398.2 38.0,398.0 C33.7,397.8 28.0,398.8 26.0,399.0" fill="none" stroke="#c56f2c" stroke-width="4.2" stroke-linecap="round"/>
<path d="M58.0,428.0 C57.0,429.3 53.3,433.3 52.0,436.0 C50.7,438.7 50.3,442.7 50.0,444.0" fill="none" stroke="#8a4a1c" stroke-width="6.2" stroke-linecap="round"/>
<path d="M58.0,428.0 C57.0,429.3 53.3,433.3 52.0,436.0 C50.7,438.7 50.3,442.7 50.0,444.0" fill="none" stroke="#c56f2c" stroke-width="4.2" stroke-linecap="round"/>
<path d="M97.0,431.0 C97.5,432.5 99.2,436.8 100.0,440.0 C100.8,443.2 101.7,448.3 102.0,450.0" fill="none" stroke="#8a4a1c" stroke-width="6.2" stroke-linecap="round"/>
<path d="M97.0,431.0 C97.5,432.5 99.2,436.8 100.0,440.0 C100.8,443.2 101.7,448.3 102.0,450.0" fill="none" stroke="#c56f2c" stroke-width="4.2" stroke-linecap="round"/>
<path d="M109.0,412.0 C110.5,413.0 116.5,417.0 118.0,418.0" fill="none" stroke="#8a4a1c" stroke-width="6.2" stroke-linecap="round"/>
<path d="M109.0,412.0 C110.5,413.0 116.5,417.0 118.0,418.0" fill="none" stroke="#c56f2c" stroke-width="4.2" stroke-linecap="round"/>
<circle cx="79" cy="404" r="31" fill="#c56f2c" stroke="#8a4a1c" stroke-width="1" />
<ellipse cx="74" cy="402" rx="13.5" ry="17" fill="#b0601e" stroke="none" stroke-width="1" />
<g transform="translate(97,357) rotate(20)"><rect x="-4" y="-9" width="8" height="15" fill="#f4f4f4" stroke="#8a8a8a" stroke-width="0.8"/><line x1="-1.5" y1="6" x2="-1.5" y2="13" stroke="#555" stroke-width="0.8"/><line x1="1.5" y1="6" x2="1.5" y2="13" stroke="#555" stroke-width="0.8"/><circle cx="0" cy="-5" r="2" fill="#a0204a"/></g>
<g transform="translate(41,383) rotate(-60)"><rect x="-4" y="-9" width="8" height="15" fill="#f4f4f4" stroke="#8a8a8a" stroke-width="0.8"/><line x1="-1.5" y1="6" x2="-1.5" y2="13" stroke="#555" stroke-width="0.8"/><line x1="1.5" y1="6" x2="1.5" y2="13" stroke="#555" stroke-width="0.8"/><circle cx="0" cy="-5" r="2" fill="#a0204a"/></g>
<g transform="translate(78,452) rotate(180)"><rect x="-4" y="-9" width="8" height="15" fill="#f4f4f4" stroke="#8a8a8a" stroke-width="0.8"/><line x1="-1.5" y1="6" x2="-1.5" y2="13" stroke="#555" stroke-width="0.8"/><line x1="1.5" y1="6" x2="1.5" y2="13" stroke="#555" stroke-width="0.8"/><circle cx="0" cy="-5" r="2" fill="#a0204a"/></g>
<rect x="120" y="395" width="30" height="5" rx="1" fill="#d88080" stroke="none" stroke-width="1" />
<rect x="108" y="397" width="12" height="2" rx="0" fill="#f0f0f0" stroke="#999" stroke-width="0.6" />
<rect x="120" y="405" width="30" height="6" rx="1" fill="#c04048" stroke="none" stroke-width="1" />
<rect x="106" y="405" width="14" height="6" rx="0" fill="#f4f4f4" stroke="#999" stroke-width="0.6" />
<circle cx="114" cy="408" r="2" fill="#a0204a" stroke="none" stroke-width="1" />
<circle cx="185" cy="398" r="35.5" fill="#e52a2c" stroke="#c21f22" stroke-width="1" />
<circle cx="186" cy="406" r="20" fill="#d21f23" stroke="none" stroke-width="1" />
<g transform="translate(184,356) rotate(0)"><rect x="-2.5" y="0" width="5" height="9" fill="#f4f4f4" stroke="#999" stroke-width="0.6"/><rect x="-4" y="-16" width="8" height="16" fill="#c63a40" stroke="#9c2a30" stroke-width="0.6"/><line x1="0" y1="-16" x2="0" y2="0" stroke="#f4a0a0" stroke-width="0.8"/></g>
<g transform="translate(184,441) rotate(180)"><rect x="-2.5" y="0" width="5" height="9" fill="#f4f4f4" stroke="#999" stroke-width="0.6"/><rect x="-4" y="-16" width="8" height="16" fill="#c63a40" stroke="#9c2a30" stroke-width="0.6"/><line x1="0" y1="-16" x2="0" y2="0" stroke="#f4a0a0" stroke-width="0.8"/></g>
<g transform="translate(216,380) rotate(60)"><rect x="-2.5" y="0" width="5" height="9" fill="#f4f4f4" stroke="#999" stroke-width="0.6"/><rect x="-4" y="-16" width="8" height="16" fill="#c63a40" stroke="#9c2a30" stroke-width="0.6"/><line x1="0" y1="-16" x2="0" y2="0" stroke="#f4a0a0" stroke-width="0.8"/></g>
<g transform="translate(216,418) rotate(120)"><rect x="-2.5" y="0" width="5" height="9" fill="#f4f4f4" stroke="#999" stroke-width="0.6"/><rect x="-4" y="-16" width="8" height="16" fill="#c63a40" stroke="#9c2a30" stroke-width="0.6"/><line x1="0" y1="-16" x2="0" y2="0" stroke="#f4a0a0" stroke-width="0.8"/></g>
<text x="190" y="392.5" font-size="11" fill="#fff" font-weight="bold" text-anchor="middle" >CD4+ T</text>
<text x="190" y="406" font-size="11" fill="#fff" font-weight="bold" text-anchor="middle" >Helper cell</text>
<text x="90.5" y="342" font-size="11" fill="#222" font-weight="normal" text-anchor="middle" >MHC II</text>
<text x="155" y="444" font-size="8" fill="#222" font-weight="normal" text-anchor="middle" >TCRs</text>
<line x1="145" y1="412" x2="152" y2="433" stroke="#222" stroke-width="1.1" />
<line x1="162" y1="448" x2="180" y2="455" stroke="#222" stroke-width="1.1" />
<text x="140" y="491.4" font-size="9.2" fill="#222" font-weight="normal" text-anchor="middle" >Virus antigens that degrade in</text>
<text x="140" y="501.6" font-size="9.2" fill="#222" font-weight="normal" text-anchor="middle" >endosomes bind with MHC class II.</text>
<line x1="106" y1="477" x2="88.02566358103168" y2="465.27760668328153" stroke="#222" stroke-width="1" />
<polygon points="83.0,462.0 89.8,462.6 86.3,468.0" fill="#222"/>
<rect x="557" y="316" width="203" height="201" rx="0" fill="#e5e8f8" stroke="#2a2a2a" stroke-width="1.6" />
<clipPath id="brc"><rect x="557.75" y="316.75" width="201.5" height="199.5"/></clipPath>
<g clip-path="url(#brc)">
<circle cx="598" cy="385" r="36" fill="#e52a2c" stroke="#c21f22" stroke-width="1" />
<circle cx="595" cy="388" r="22" fill="#d21f23" stroke="none" stroke-width="1" />
<line x1="620" y1="365" x2="700" y2="365" stroke="#4a4a8a" stroke-width="1" />
<line x1="620" y1="369" x2="700" y2="369" stroke="#4a4a8a" stroke-width="1" />
<ellipse cx="641" cy="367" rx="5" ry="3.5" fill="#7f72c4" stroke="#5a4ea0" stroke-width="0.6" />
<ellipse cx="650" cy="367" rx="5" ry="3.5" fill="#7f72c4" stroke="#5a4ea0" stroke-width="0.6" />
<ellipse cx="659" cy="367" rx="5" ry="3.5" fill="#7f72c4" stroke="#5a4ea0" stroke-width="0.6" />
<ellipse cx="668" cy="367" rx="5" ry="3.5" fill="#7f72c4" stroke="#5a4ea0" stroke-width="0.6" />
<ellipse cx="678" cy="367" rx="5" ry="3.5" fill="#7f72c4" stroke="#5a4ea0" stroke-width="0.6" />
<line x1="620" y1="389" x2="700" y2="389" stroke="#203a50" stroke-width="1" />
<line x1="620" y1="395" x2="700" y2="395" stroke="#203a50" stroke-width="1" />
<rect x="632" y="388" width="30" height="8" rx="1.5" fill="#2b8f8a" stroke="none" stroke-width="1" />
<rect x="662" y="387" width="21" height="10" rx="1.5" fill="#2a6ea8" stroke="none" stroke-width="1" />
<circle cx="663" cy="392" r="2.2" fill="#b0204a" stroke="none" stroke-width="1" />
<line x1="618" y1="402" x2="660" y2="402" stroke="#203a50" stroke-width="1" />
<rect x="632" y="399" width="18" height="6" rx="1.5" fill="#2b8f8a" stroke="none" stroke-width="1" />
<rect x="653" y="398" width="22" height="7" rx="1.5" fill="#2b8f8a" stroke="none" stroke-width="1" />
<circle cx="715" cy="384.5" r="40" fill="#dcb6e8" stroke="#b58ac8" stroke-width="1.2" />
<circle cx="720.5" cy="382" r="23" fill="#c89cda" stroke="none" stroke-width="1" />
</g>
<g transform="translate(747,352) rotate(70) scale(1)" stroke="#2f7fa8" stroke-width="2.6" stroke-linecap="butt" fill="none"><path d="M-1,9 L-1,0 L-5.5,-6.5 M1,9 L1,0 L5.5,-6.5 M-3,-3 L-7.5,-9.5 M3,-3 L7.5,-9.5"/></g>
<g transform="translate(750,412) rotate(110) scale(1)" stroke="#2f7fa8" stroke-width="2.6" stroke-linecap="butt" fill="none"><path d="M-1,9 L-1,0 L-5.5,-6.5 M1,9 L1,0 L5.5,-6.5 M-3,-3 L-7.5,-9.5 M3,-3 L7.5,-9.5"/></g>
<g transform="translate(737,344) rotate(30) scale(0.9)" stroke="#9cc0d8" stroke-width="2.6" stroke-linecap="butt" fill="none"><path d="M-1,9 L-1,0 L-5.5,-6.5 M1,9 L1,0 L5.5,-6.5 M-3,-3 L-7.5,-9.5 M3,-3 L7.5,-9.5"/></g>
<g transform="translate(703,457.5) rotate(10) scale(0.78)" stroke="#2f86ab" stroke-width="2.6" stroke-linecap="butt" fill="none"><path d="M-1,9 L-1,0 L-5.5,-6.5 M1,9 L1,0 L5.5,-6.5 M-3,-3 L-7.5,-9.5 M3,-3 L7.5,-9.5"/></g>
<g transform="translate(734.8,447) rotate(-15) scale(0.78)" stroke="#2f86ab" stroke-width="2.6" stroke-linecap="butt" fill="none"><path d="M-1,9 L-1,0 L-5.5,-6.5 M1,9 L1,0 L5.5,-6.5 M-3,-3 L-7.5,-9.5 M3,-3 L7.5,-9.5"/></g>
<g transform="translate(722,459.6) rotate(40) scale(0.78)" stroke="#2f86ab" stroke-width="2.6" stroke-linecap="butt" fill="none"><path d="M-1,9 L-1,0 L-5.5,-6.5 M1,9 L1,0 L5.5,-6.5 M-3,-3 L-7.5,-9.5 M3,-3 L7.5,-9.5"/></g>
<g transform="translate(688.6,480.6) rotate(-70) scale(0.78)" stroke="#2f86ab" stroke-width="2.6" stroke-linecap="butt" fill="none"><path d="M-1,9 L-1,0 L-5.5,-6.5 M1,9 L1,0 L5.5,-6.5 M-3,-3 L-7.5,-9.5 M3,-3 L7.5,-9.5"/></g>
<g transform="translate(705.4,474.3) rotate(30) scale(0.78)" stroke="#2f86ab" stroke-width="2.6" stroke-linecap="butt" fill="none"><path d="M-1,9 L-1,0 L-5.5,-6.5 M1,9 L1,0 L5.5,-6.5 M-3,-3 L-7.5,-9.5 M3,-3 L7.5,-9.5"/></g>
<g transform="translate(739,470) rotate(70) scale(0.78)" stroke="#2f86ab" stroke-width="2.6" stroke-linecap="butt" fill="none"><path d="M-1,9 L-1,0 L-5.5,-6.5 M1,9 L1,0 L5.5,-6.5 M-3,-3 L-7.5,-9.5 M3,-3 L7.5,-9.5"/></g>
<g transform="translate(713.8,489) rotate(0) scale(0.78)" stroke="#2f86ab" stroke-width="2.6" stroke-linecap="butt" fill="none"><path d="M-1,9 L-1,0 L-5.5,-6.5 M1,9 L1,0 L5.5,-6.5 M-3,-3 L-7.5,-9.5 M3,-3 L7.5,-9.5"/></g>
<g transform="translate(734.8,493) rotate(-30) scale(0.78)" stroke="#a8c8dc" stroke-width="2.6" stroke-linecap="butt" fill="none"><path d="M-1,9 L-1,0 L-5.5,-6.5 M1,9 L1,0 L5.5,-6.5 M-3,-3 L-7.5,-9.5 M3,-3 L7.5,-9.5"/></g>
<g transform="translate(699,497.4) rotate(-100) scale(0.78)" stroke="#2f86ab" stroke-width="2.6" stroke-linecap="butt" fill="none"><path d="M-1,9 L-1,0 L-5.5,-6.5 M1,9 L1,0 L5.5,-6.5 M-3,-3 L-7.5,-9.5 M3,-3 L7.5,-9.5"/></g>
<g transform="translate(724.3,505.8) rotate(50) scale(0.78)" stroke="#2f86ab" stroke-width="2.6" stroke-linecap="butt" fill="none"><path d="M-1,9 L-1,0 L-5.5,-6.5 M1,9 L1,0 L5.5,-6.5 M-3,-3 L-7.5,-9.5 M3,-3 L7.5,-9.5"/></g>
<g transform="translate(747.4,476.4) rotate(80) scale(0.78)" stroke="#2f86ab" stroke-width="2.6" stroke-linecap="butt" fill="none"><path d="M-1,9 L-1,0 L-5.5,-6.5 M1,9 L1,0 L5.5,-6.5 M-3,-3 L-7.5,-9.5 M3,-3 L7.5,-9.5"/></g>
<g transform="translate(688.6,461.7) rotate(-20) scale(0.78)" stroke="#a8c8dc" stroke-width="2.6" stroke-linecap="butt" fill="none"><path d="M-1,9 L-1,0 L-5.5,-6.5 M1,9 L1,0 L5.5,-6.5 M-3,-3 L-7.5,-9.5 M3,-3 L7.5,-9.5"/></g>
<line x1="706" y1="427" x2="716.4733321612722" y2="449.5579461935094" stroke="#222" stroke-width="1" />
<polygon points="719.0,455.0 713.3,451.0 719.6,448.1" fill="#222"/>
<text x="598" y="381" font-size="11" fill="#fff" font-weight="bold" text-anchor="middle" >CD4+ T</text>
<text x="598" y="394" font-size="11" fill="#fff" font-weight="bold" text-anchor="middle" >Helper cell</text>
<text x="718" y="387" font-size="12" fill="#f8eefb" font-weight="bold" text-anchor="middle" >B cell</text>
<text x="652" y="350" font-size="8.5" fill="#333" font-weight="normal" text-anchor="middle" >CD40L/CD40</text>
<text x="653" y="415" font-size="8.5" fill="#333" font-weight="normal" text-anchor="middle" >TCR/MHC</text>
<text x="653" y="425" font-size="8.5" fill="#333" font-weight="normal" text-anchor="middle" >II complex</text>
<text x="618.4" y="463" font-size="9.2" fill="#222" font-weight="normal" text-anchor="middle" >B cell to proliferate and</text>
<text x="618.4" y="473.3" font-size="9.2" fill="#222" font-weight="normal" text-anchor="middle" >differentiate into</text>
<text x="618.4" y="483.6" font-size="9.2" fill="#222" font-weight="normal" text-anchor="middle" >plasma cells .</text>
<line x1="213" y1="54" x2="319" y2="200" stroke="#8a8a8a" stroke-width="0.9" />
<line x1="223" y1="255" x2="319" y2="249" stroke="#8a8a8a" stroke-width="0.9" />
<line x1="185" y1="36" x2="247" y2="36" stroke="#222" stroke-width="1.2" />
<line x1="571" y1="57" x2="457" y2="114" stroke="#8a8a8a" stroke-width="0.9" />
<line x1="457" y1="169" x2="571" y2="229" stroke="#8a8a8a" stroke-width="0.9" />
<line x1="235" y1="319" x2="389" y2="260" stroke="#8a8a8a" stroke-width="0.9" />
<line x1="235" y1="520" x2="389" y2="304" stroke="#8a8a8a" stroke-width="0.9" />
<line x1="506" y1="314" x2="557" y2="316" stroke="#8a8a8a" stroke-width="0.9" />
<line x1="506" y1="366" x2="557" y2="517" stroke="#8a8a8a" stroke-width="0.9" />
<path d="M654,59 C655,75 664,86 680,86" fill="none" stroke="#78c078" stroke-width="1.3" />
<line x1="676" y1="82" x2="683" y2="90" stroke="#78c078" stroke-width="1.3" />
<path d="M212,240 C245,238 258,250 262,270" fill="none" stroke="#78c078" stroke-width="1.1" />
<line x1="257" y1="270" x2="267" y2="270" stroke="#78c078" stroke-width="1.3" />
<path d="M492,236 C470,236 466,220 470,196" fill="none" stroke="#78c078" stroke-width="1.1" />
<line x1="465" y1="196" x2="475" y2="196" stroke="#78c078" stroke-width="1.3" />
<path d="M153,329 C154,345 158,355 161,366" fill="none" stroke="#78c078" stroke-width="1.1" />
<line x1="156" y1="366" x2="166" y2="366" stroke="#78c078" stroke-width="1.3" />
<path d="M660,296 C660,320 668,343 686,349" fill="none" stroke="#78c078" stroke-width="1.1" />
<line x1="684" y1="344" x2="688" y2="354" stroke="#78c078" stroke-width="1.3" />
<rect x="37" y="249" width="66" height="58" rx="7" fill="#f1f5ee" stroke="#78c078" stroke-width="1.4" />
<text x="70" y="263" font-size="11" fill="#222" font-weight="normal" text-anchor="middle" >GQD</text>
<text x="70" y="275.5" font-size="11" fill="#222" font-weight="normal" text-anchor="middle" >JHQG</text>
<text x="70" y="288" font-size="11" fill="#222" font-weight="normal" text-anchor="middle" >QWZK</text>
<text x="70" y="300.5" font-size="11" fill="#222" font-weight="normal" text-anchor="middle" >etc</text>
<rect x="137" y="224" width="75" height="31" rx="7" fill="#f1f5ee" stroke="#78c078" stroke-width="1.4" />
<text x="175" y="236" font-size="11.5" fill="#222" font-weight="normal" text-anchor="middle" >Baicalin</text>
<text x="175" y="248.5" font-size="11.5" fill="#222" font-weight="normal" text-anchor="middle" >etc</text>
<rect x="117" y="269" width="72" height="60" rx="7" fill="#f1f5ee" stroke="#78c078" stroke-width="1.4" />
<text x="153" y="283.5" font-size="11" fill="#222" font-weight="normal" text-anchor="middle" >SFJDC</text>
<text x="153" y="296.5" font-size="11" fill="#222" font-weight="normal" text-anchor="middle" >GQD</text>
<text x="153" y="309" font-size="11" fill="#222" font-weight="normal" text-anchor="middle" >QFPDD</text>
<text x="153" y="321.5" font-size="11" fill="#222" font-weight="normal" text-anchor="middle" >etc</text>
<rect x="613" y="14" width="80" height="45" rx="7" fill="#f1f5ee" stroke="#78c078" stroke-width="1.4" />
<text x="653" y="27.5" font-size="11.5" fill="#222" font-weight="normal" text-anchor="middle" >JHQG</text>
<text x="653" y="40.5" font-size="11.5" fill="#222" font-weight="normal" text-anchor="middle" >QFPDD</text>
<text x="653" y="53" font-size="11.5" fill="#222" font-weight="normal" text-anchor="middle" >etc</text>
<rect x="492" y="212" width="65" height="44" rx="7" fill="#f1f5ee" stroke="#78c078" stroke-width="1.4" />
<text x="524.5" y="224.4" font-size="11.2" fill="#222" font-weight="normal" text-anchor="middle" >XFBD</text>
<text x="524.5" y="236.8" font-size="11.2" fill="#222" font-weight="normal" text-anchor="middle" >JHQG</text>
<text x="524.5" y="249.4" font-size="11.2" fill="#222" font-weight="normal" text-anchor="middle" >etc</text>
<rect x="635" y="262" width="62" height="34" rx="7" fill="#f1f5ee" stroke="#78c078" stroke-width="1.4" />
<text x="666" y="276.6" font-size="11" fill="#222" font-weight="normal" text-anchor="middle" >QFPDD</text>
<text x="666" y="289.2" font-size="11" fill="#222" font-weight="normal" text-anchor="middle" >etc</text>
<rect x="508" y="17" width="95" height="38" rx="14" fill="#fff" stroke="#333" stroke-width="1.4" />
<text x="556" y="33.6" font-size="9.2" fill="#111" font-weight="bold" text-anchor="middle" >The Innate</text>
<text x="556" y="45" font-size="9.2" fill="#111" font-weight="bold" text-anchor="middle" >Immune Response</text>
<rect x="513" y="263" width="93" height="38" rx="13" fill="#fff" stroke="#333" stroke-width="1.4" />
<text x="559.5" y="279.5" font-size="9" fill="#111" font-weight="bold" text-anchor="middle" >The Adaptive</text>
<text x="559.5" y="290.5" font-size="9" fill="#111" font-weight="bold" text-anchor="middle" >Immune Response</text>
</svg>
</body></html>
